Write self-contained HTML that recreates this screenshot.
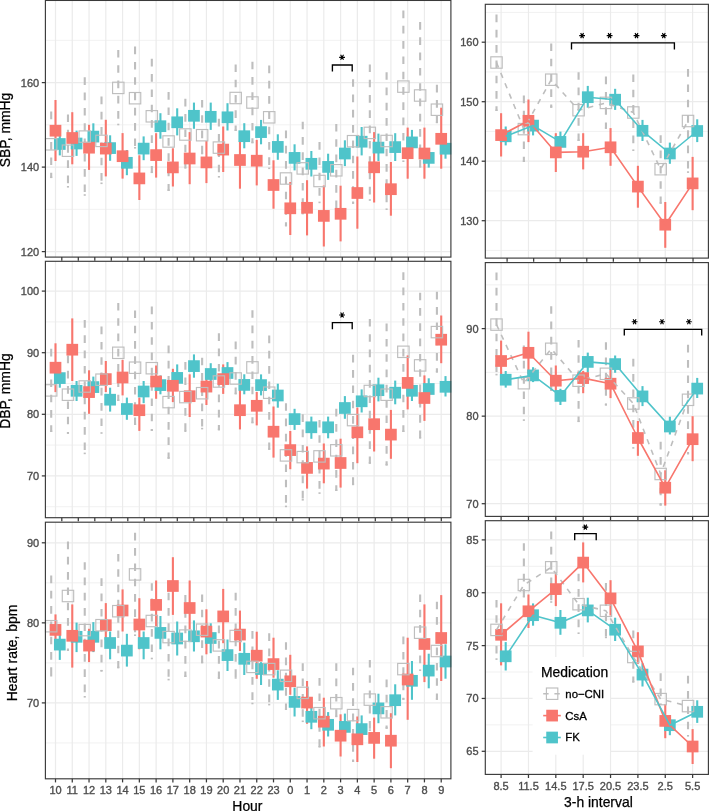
<!DOCTYPE html>
<html><head><meta charset="utf-8"><title>Blood pressure and heart rate by medication</title>
<style>html,body{margin:0;padding:0;background:#fff;overflow:hidden;width:709px;height:811px}svg{display:block;will-change:transform}</style>
</head><body>
<svg width="709" height="811" viewBox="0 0 709 811">
<style>text{font-family:"Liberation Sans",sans-serif}.tk{font-size:11px;fill:#4D4D4D;stroke:#4D4D4D;stroke-width:0.35px}.ti{font-size:13.9px;fill:#000;stroke:#000;stroke-width:0.25px}.lg{font-size:11.4px;fill:#000;stroke:#000;stroke-width:0.3px}.star{font-size:17px;fill:#000}</style>
<rect width="709" height="811" fill="#fff"/>
<line x1="45.4" y1="209.35" x2="450.9" y2="209.35" stroke="#EBEBEB" stroke-width="0.7"/>
<line x1="45.4" y1="124.85" x2="450.9" y2="124.85" stroke="#EBEBEB" stroke-width="0.7"/>
<line x1="45.4" y1="40.35" x2="450.9" y2="40.35" stroke="#EBEBEB" stroke-width="0.7"/>
<line x1="45.4" y1="251.6" x2="450.9" y2="251.6" stroke="#EBEBEB" stroke-width="1.2"/>
<line x1="45.4" y1="167.1" x2="450.9" y2="167.1" stroke="#EBEBEB" stroke-width="1.2"/>
<line x1="45.4" y1="82.6" x2="450.9" y2="82.6" stroke="#EBEBEB" stroke-width="1.2"/>
<line x1="55.5" y1="0.45" x2="55.5" y2="257.1" stroke="#EBEBEB" stroke-width="1.2"/>
<line x1="72.27" y1="0.45" x2="72.27" y2="257.1" stroke="#EBEBEB" stroke-width="1.2"/>
<line x1="89.04" y1="0.45" x2="89.04" y2="257.1" stroke="#EBEBEB" stroke-width="1.2"/>
<line x1="105.81" y1="0.45" x2="105.81" y2="257.1" stroke="#EBEBEB" stroke-width="1.2"/>
<line x1="122.58" y1="0.45" x2="122.58" y2="257.1" stroke="#EBEBEB" stroke-width="1.2"/>
<line x1="139.35" y1="0.45" x2="139.35" y2="257.1" stroke="#EBEBEB" stroke-width="1.2"/>
<line x1="156.12" y1="0.45" x2="156.12" y2="257.1" stroke="#EBEBEB" stroke-width="1.2"/>
<line x1="172.89" y1="0.45" x2="172.89" y2="257.1" stroke="#EBEBEB" stroke-width="1.2"/>
<line x1="189.66" y1="0.45" x2="189.66" y2="257.1" stroke="#EBEBEB" stroke-width="1.2"/>
<line x1="206.43" y1="0.45" x2="206.43" y2="257.1" stroke="#EBEBEB" stroke-width="1.2"/>
<line x1="223.2" y1="0.45" x2="223.2" y2="257.1" stroke="#EBEBEB" stroke-width="1.2"/>
<line x1="239.97" y1="0.45" x2="239.97" y2="257.1" stroke="#EBEBEB" stroke-width="1.2"/>
<line x1="256.74" y1="0.45" x2="256.74" y2="257.1" stroke="#EBEBEB" stroke-width="1.2"/>
<line x1="273.51" y1="0.45" x2="273.51" y2="257.1" stroke="#EBEBEB" stroke-width="1.2"/>
<line x1="290.28" y1="0.45" x2="290.28" y2="257.1" stroke="#EBEBEB" stroke-width="1.2"/>
<line x1="307.05" y1="0.45" x2="307.05" y2="257.1" stroke="#EBEBEB" stroke-width="1.2"/>
<line x1="323.82" y1="0.45" x2="323.82" y2="257.1" stroke="#EBEBEB" stroke-width="1.2"/>
<line x1="340.59" y1="0.45" x2="340.59" y2="257.1" stroke="#EBEBEB" stroke-width="1.2"/>
<line x1="357.36" y1="0.45" x2="357.36" y2="257.1" stroke="#EBEBEB" stroke-width="1.2"/>
<line x1="374.13" y1="0.45" x2="374.13" y2="257.1" stroke="#EBEBEB" stroke-width="1.2"/>
<line x1="390.9" y1="0.45" x2="390.9" y2="257.1" stroke="#EBEBEB" stroke-width="1.2"/>
<line x1="407.67" y1="0.45" x2="407.67" y2="257.1" stroke="#EBEBEB" stroke-width="1.2"/>
<line x1="424.44" y1="0.45" x2="424.44" y2="257.1" stroke="#EBEBEB" stroke-width="1.2"/>
<line x1="441.21" y1="0.45" x2="441.21" y2="257.1" stroke="#EBEBEB" stroke-width="1.2"/>
<line x1="59.8" y1="135.5" x2="59.8" y2="155.4" stroke="#4FC4CA" stroke-width="2.1"/>
<line x1="76.57" y1="130.6" x2="76.57" y2="155.9" stroke="#4FC4CA" stroke-width="2.1"/>
<line x1="93.34" y1="123.3" x2="93.34" y2="148" stroke="#4FC4CA" stroke-width="2.1"/>
<line x1="110.11" y1="135.3" x2="110.11" y2="160.8" stroke="#4FC4CA" stroke-width="2.1"/>
<line x1="126.88" y1="150" x2="126.88" y2="175.2" stroke="#4FC4CA" stroke-width="2.1"/>
<line x1="143.65" y1="136.4" x2="143.65" y2="160.2" stroke="#4FC4CA" stroke-width="2.1"/>
<line x1="160.42" y1="113.2" x2="160.42" y2="138.7" stroke="#4FC4CA" stroke-width="2.1"/>
<line x1="177.19" y1="108.3" x2="177.19" y2="135.4" stroke="#4FC4CA" stroke-width="2.1"/>
<line x1="193.96" y1="102.6" x2="193.96" y2="128.8" stroke="#4FC4CA" stroke-width="2.1"/>
<line x1="210.73" y1="102.6" x2="210.73" y2="129.9" stroke="#4FC4CA" stroke-width="2.1"/>
<line x1="227.5" y1="103.2" x2="227.5" y2="130.5" stroke="#4FC4CA" stroke-width="2.1"/>
<line x1="244.27" y1="123.2" x2="244.27" y2="148.3" stroke="#4FC4CA" stroke-width="2.1"/>
<line x1="261.04" y1="119.9" x2="261.04" y2="144.3" stroke="#4FC4CA" stroke-width="2.1"/>
<line x1="277.81" y1="134.3" x2="277.81" y2="159.8" stroke="#4FC4CA" stroke-width="2.1"/>
<line x1="294.58" y1="144.3" x2="294.58" y2="170.4" stroke="#4FC4CA" stroke-width="2.1"/>
<line x1="311.35" y1="151" x2="311.35" y2="176.5" stroke="#4FC4CA" stroke-width="2.1"/>
<line x1="328.12" y1="153.7" x2="328.12" y2="179.9" stroke="#4FC4CA" stroke-width="2.1"/>
<line x1="344.89" y1="140.3" x2="344.89" y2="166.1" stroke="#4FC4CA" stroke-width="2.1"/>
<line x1="361.66" y1="127" x2="361.66" y2="155.4" stroke="#4FC4CA" stroke-width="2.1"/>
<line x1="378.43" y1="133.6" x2="378.43" y2="161" stroke="#4FC4CA" stroke-width="2.1"/>
<line x1="395.2" y1="133.2" x2="395.2" y2="161" stroke="#4FC4CA" stroke-width="2.1"/>
<line x1="411.97" y1="129.9" x2="411.97" y2="153.2" stroke="#4FC4CA" stroke-width="2.1"/>
<line x1="428.74" y1="148" x2="428.74" y2="167.6" stroke="#4FC4CA" stroke-width="2.1"/>
<line x1="445.51" y1="137.6" x2="445.51" y2="158.7" stroke="#4FC4CA" stroke-width="2.1"/>
<line x1="55.5" y1="100" x2="55.5" y2="161" stroke="#F8766D" stroke-width="2.1"/>
<line x1="72.27" y1="112.2" x2="72.27" y2="164.3" stroke="#F8766D" stroke-width="2.1"/>
<line x1="89.04" y1="124.8" x2="89.04" y2="169.9" stroke="#F8766D" stroke-width="2.1"/>
<line x1="105.81" y1="119.8" x2="105.81" y2="176.4" stroke="#F8766D" stroke-width="2.1"/>
<line x1="122.58" y1="133.1" x2="122.58" y2="178.6" stroke="#F8766D" stroke-width="2.1"/>
<line x1="139.35" y1="155.3" x2="139.35" y2="200" stroke="#F8766D" stroke-width="2.1"/>
<line x1="156.12" y1="133.2" x2="156.12" y2="177.6" stroke="#F8766D" stroke-width="2.1"/>
<line x1="172.89" y1="148.3" x2="172.89" y2="186.5" stroke="#F8766D" stroke-width="2.1"/>
<line x1="189.66" y1="132.1" x2="189.66" y2="184.2" stroke="#F8766D" stroke-width="2.1"/>
<line x1="206.43" y1="141" x2="206.43" y2="183.1" stroke="#F8766D" stroke-width="2.1"/>
<line x1="223.2" y1="126.5" x2="223.2" y2="172" stroke="#F8766D" stroke-width="2.1"/>
<line x1="239.97" y1="141" x2="239.97" y2="188.7" stroke="#F8766D" stroke-width="2.1"/>
<line x1="256.74" y1="139.9" x2="256.74" y2="185.4" stroke="#F8766D" stroke-width="2.1"/>
<line x1="273.51" y1="160.3" x2="273.51" y2="208.7" stroke="#F8766D" stroke-width="2.1"/>
<line x1="290.28" y1="182" x2="290.28" y2="235" stroke="#F8766D" stroke-width="2.1"/>
<line x1="307.05" y1="180.2" x2="307.05" y2="235.4" stroke="#F8766D" stroke-width="2.1"/>
<line x1="323.82" y1="185.5" x2="323.82" y2="246.5" stroke="#F8766D" stroke-width="2.1"/>
<line x1="340.59" y1="185.7" x2="340.59" y2="241.4" stroke="#F8766D" stroke-width="2.1"/>
<line x1="357.36" y1="156.5" x2="357.36" y2="228.7" stroke="#F8766D" stroke-width="2.1"/>
<line x1="374.13" y1="132.1" x2="374.13" y2="202.5" stroke="#F8766D" stroke-width="2.1"/>
<line x1="390.9" y1="162" x2="390.9" y2="215.7" stroke="#F8766D" stroke-width="2.1"/>
<line x1="407.67" y1="127.6" x2="407.67" y2="178.7" stroke="#F8766D" stroke-width="2.1"/>
<line x1="424.44" y1="127.6" x2="424.44" y2="178.7" stroke="#F8766D" stroke-width="2.1"/>
<line x1="441.21" y1="107.7" x2="441.21" y2="168.7" stroke="#F8766D" stroke-width="2.1"/>
<line x1="51.2" y1="111.5" x2="51.2" y2="178.1" stroke="#BEBEBE" stroke-width="2.1" stroke-dasharray="7.65 7.65"/>
<rect x="50.15" y="176.5" width="2.1" height="1.6" fill="#BEBEBE"/>
<line x1="67.97" y1="114.4" x2="67.97" y2="187.6" stroke="#BEBEBE" stroke-width="2.1" stroke-dasharray="7.65 7.65"/>
<rect x="66.92" y="186" width="2.1" height="1.6" fill="#BEBEBE"/>
<line x1="84.74" y1="77.3" x2="84.74" y2="195.8" stroke="#BEBEBE" stroke-width="2.1" stroke-dasharray="7.65 7.65"/>
<rect x="83.69" y="194.2" width="2.1" height="1.6" fill="#BEBEBE"/>
<line x1="101.51" y1="96.5" x2="101.51" y2="184.1" stroke="#BEBEBE" stroke-width="2.1" stroke-dasharray="7.65 7.65"/>
<rect x="100.46" y="182.5" width="2.1" height="1.6" fill="#BEBEBE"/>
<line x1="118.28" y1="49.9" x2="118.28" y2="125.3" stroke="#BEBEBE" stroke-width="2.1" stroke-dasharray="7.65 7.65"/>
<rect x="117.23" y="123.7" width="2.1" height="1.6" fill="#BEBEBE"/>
<line x1="135.05" y1="46.6" x2="135.05" y2="148.6" stroke="#BEBEBE" stroke-width="2.1" stroke-dasharray="7.65 7.65"/>
<rect x="134" y="147" width="2.1" height="1.6" fill="#BEBEBE"/>
<line x1="151.82" y1="58.8" x2="151.82" y2="173.1" stroke="#BEBEBE" stroke-width="2.1" stroke-dasharray="7.65 7.65"/>
<rect x="150.77" y="171.5" width="2.1" height="1.6" fill="#BEBEBE"/>
<line x1="168.59" y1="92.1" x2="168.59" y2="190.9" stroke="#BEBEBE" stroke-width="2.1" stroke-dasharray="7.65 7.65"/>
<rect x="167.54" y="189.3" width="2.1" height="1.6" fill="#BEBEBE"/>
<line x1="185.36" y1="98.8" x2="185.36" y2="168.7" stroke="#BEBEBE" stroke-width="2.1" stroke-dasharray="7.65 7.65"/>
<rect x="184.31" y="167.1" width="2.1" height="1.6" fill="#BEBEBE"/>
<line x1="202.13" y1="99.9" x2="202.13" y2="154.3" stroke="#BEBEBE" stroke-width="2.1" stroke-dasharray="7.65 7.65"/>
<rect x="201.08" y="152.7" width="2.1" height="1.6" fill="#BEBEBE"/>
<line x1="218.9" y1="118.8" x2="218.9" y2="177.6" stroke="#BEBEBE" stroke-width="2.1" stroke-dasharray="7.65 7.65"/>
<rect x="217.85" y="176" width="2.1" height="1.6" fill="#BEBEBE"/>
<line x1="235.67" y1="64.4" x2="235.67" y2="131" stroke="#BEBEBE" stroke-width="2.1" stroke-dasharray="7.65 7.65"/>
<rect x="234.62" y="129.4" width="2.1" height="1.6" fill="#BEBEBE"/>
<line x1="252.44" y1="61.7" x2="252.44" y2="143.2" stroke="#BEBEBE" stroke-width="2.1" stroke-dasharray="7.65 7.65"/>
<rect x="251.39" y="141.6" width="2.1" height="1.6" fill="#BEBEBE"/>
<line x1="269.21" y1="65.5" x2="269.21" y2="169.1" stroke="#BEBEBE" stroke-width="2.1" stroke-dasharray="7.65 7.65"/>
<rect x="268.16" y="167.5" width="2.1" height="1.6" fill="#BEBEBE"/>
<line x1="285.98" y1="130.5" x2="285.98" y2="226.3" stroke="#BEBEBE" stroke-width="2.1" stroke-dasharray="7.65 7.65"/>
<rect x="284.93" y="224.7" width="2.1" height="1.6" fill="#BEBEBE"/>
<line x1="302.75" y1="121.7" x2="302.75" y2="214.2" stroke="#BEBEBE" stroke-width="2.1" stroke-dasharray="7.65 7.65"/>
<rect x="301.7" y="212.6" width="2.1" height="1.6" fill="#BEBEBE"/>
<line x1="319.52" y1="142.1" x2="319.52" y2="203.2" stroke="#BEBEBE" stroke-width="2.1" stroke-dasharray="7.65 7.65"/>
<rect x="318.47" y="201.6" width="2.1" height="1.6" fill="#BEBEBE"/>
<line x1="336.29" y1="123.9" x2="336.29" y2="213.1" stroke="#BEBEBE" stroke-width="2.1" stroke-dasharray="7.65 7.65"/>
<rect x="335.24" y="211.5" width="2.1" height="1.6" fill="#BEBEBE"/>
<line x1="353.06" y1="79.2" x2="353.06" y2="203.8" stroke="#BEBEBE" stroke-width="2.1" stroke-dasharray="7.65 7.65"/>
<rect x="352.01" y="202.2" width="2.1" height="1.6" fill="#BEBEBE"/>
<line x1="369.83" y1="64.4" x2="369.83" y2="200.8" stroke="#BEBEBE" stroke-width="2.1" stroke-dasharray="7.65 7.65"/>
<rect x="368.78" y="199.2" width="2.1" height="1.6" fill="#BEBEBE"/>
<line x1="386.6" y1="72.2" x2="386.6" y2="210" stroke="#BEBEBE" stroke-width="2.1" stroke-dasharray="7.65 7.65"/>
<rect x="385.55" y="208.4" width="2.1" height="1.6" fill="#BEBEBE"/>
<line x1="403.37" y1="10.5" x2="403.37" y2="162" stroke="#BEBEBE" stroke-width="2.1" stroke-dasharray="7.65 7.65"/>
<rect x="402.32" y="160.4" width="2.1" height="1.6" fill="#BEBEBE"/>
<line x1="420.14" y1="22" x2="420.14" y2="167.6" stroke="#BEBEBE" stroke-width="2.1" stroke-dasharray="7.65 7.65"/>
<rect x="419.09" y="166" width="2.1" height="1.6" fill="#BEBEBE"/>
<line x1="436.91" y1="84.8" x2="436.91" y2="123.2" stroke="#BEBEBE" stroke-width="2.1" stroke-dasharray="7.65 7.65"/>
<rect x="435.86" y="121.6" width="2.1" height="1.6" fill="#BEBEBE"/>
<rect x="53.95" y="138.15" width="11.7" height="11.7" fill="#4FC4CA"/>
<rect x="70.72" y="137.65" width="11.7" height="11.7" fill="#4FC4CA"/>
<rect x="87.49" y="130.75" width="11.7" height="11.7" fill="#4FC4CA"/>
<rect x="104.26" y="142.25" width="11.7" height="11.7" fill="#4FC4CA"/>
<rect x="121.03" y="156.95" width="11.7" height="11.7" fill="#4FC4CA"/>
<rect x="137.8" y="142.75" width="11.7" height="11.7" fill="#4FC4CA"/>
<rect x="154.57" y="120.35" width="11.7" height="11.7" fill="#4FC4CA"/>
<rect x="171.34" y="116.45" width="11.7" height="11.7" fill="#4FC4CA"/>
<rect x="188.11" y="109.95" width="11.7" height="11.7" fill="#4FC4CA"/>
<rect x="204.88" y="110.95" width="11.7" height="11.7" fill="#4FC4CA"/>
<rect x="221.65" y="111.45" width="11.7" height="11.7" fill="#4FC4CA"/>
<rect x="238.42" y="130.35" width="11.7" height="11.7" fill="#4FC4CA"/>
<rect x="255.19" y="126.25" width="11.7" height="11.7" fill="#4FC4CA"/>
<rect x="271.96" y="141.05" width="11.7" height="11.7" fill="#4FC4CA"/>
<rect x="288.73" y="152.05" width="11.7" height="11.7" fill="#4FC4CA"/>
<rect x="305.5" y="157.95" width="11.7" height="11.7" fill="#4FC4CA"/>
<rect x="322.27" y="161.05" width="11.7" height="11.7" fill="#4FC4CA"/>
<rect x="339.04" y="147.65" width="11.7" height="11.7" fill="#4FC4CA"/>
<rect x="355.81" y="135.85" width="11.7" height="11.7" fill="#4FC4CA"/>
<rect x="372.58" y="141.75" width="11.7" height="11.7" fill="#4FC4CA"/>
<rect x="389.35" y="141.25" width="11.7" height="11.7" fill="#4FC4CA"/>
<rect x="406.12" y="136.55" width="11.7" height="11.7" fill="#4FC4CA"/>
<rect x="422.89" y="152.05" width="11.7" height="11.7" fill="#4FC4CA"/>
<rect x="439.66" y="142.85" width="11.7" height="11.7" fill="#4FC4CA"/>
<rect x="49.65" y="124.85" width="11.7" height="11.7" fill="#F8766D"/>
<rect x="66.42" y="132.15" width="11.7" height="11.7" fill="#F8766D"/>
<rect x="83.19" y="141.85" width="11.7" height="11.7" fill="#F8766D"/>
<rect x="99.96" y="142.75" width="11.7" height="11.7" fill="#F8766D"/>
<rect x="116.73" y="150.35" width="11.7" height="11.7" fill="#F8766D"/>
<rect x="133.5" y="172.55" width="11.7" height="11.7" fill="#F8766D"/>
<rect x="150.27" y="149.25" width="11.7" height="11.7" fill="#F8766D"/>
<rect x="167.04" y="161.55" width="11.7" height="11.7" fill="#F8766D"/>
<rect x="183.81" y="152.65" width="11.7" height="11.7" fill="#F8766D"/>
<rect x="200.58" y="156.55" width="11.7" height="11.7" fill="#F8766D"/>
<rect x="217.35" y="143.75" width="11.7" height="11.7" fill="#F8766D"/>
<rect x="234.12" y="154.15" width="11.7" height="11.7" fill="#F8766D"/>
<rect x="250.89" y="154.85" width="11.7" height="11.7" fill="#F8766D"/>
<rect x="267.66" y="179.15" width="11.7" height="11.7" fill="#F8766D"/>
<rect x="284.43" y="202.45" width="11.7" height="11.7" fill="#F8766D"/>
<rect x="301.2" y="201.95" width="11.7" height="11.7" fill="#F8766D"/>
<rect x="317.97" y="210.05" width="11.7" height="11.7" fill="#F8766D"/>
<rect x="334.74" y="207.95" width="11.7" height="11.7" fill="#F8766D"/>
<rect x="351.51" y="187.15" width="11.7" height="11.7" fill="#F8766D"/>
<rect x="368.28" y="161.45" width="11.7" height="11.7" fill="#F8766D"/>
<rect x="385.05" y="183.35" width="11.7" height="11.7" fill="#F8766D"/>
<rect x="401.82" y="147.35" width="11.7" height="11.7" fill="#F8766D"/>
<rect x="418.59" y="147.65" width="11.7" height="11.7" fill="#F8766D"/>
<rect x="435.36" y="132.95" width="11.7" height="11.7" fill="#F8766D"/>
<rect x="45.5" y="138.6" width="11.4" height="11.4" fill="none" stroke="#BEBEBE" stroke-width="1.15"/>
<rect x="62.27" y="145" width="11.4" height="11.4" fill="none" stroke="#BEBEBE" stroke-width="1.15"/>
<rect x="79.04" y="130.9" width="11.4" height="11.4" fill="none" stroke="#BEBEBE" stroke-width="1.15"/>
<rect x="95.81" y="135.2" width="11.4" height="11.4" fill="none" stroke="#BEBEBE" stroke-width="1.15"/>
<rect x="112.58" y="82.2" width="11.4" height="11.4" fill="none" stroke="#BEBEBE" stroke-width="1.15"/>
<rect x="129.35" y="92.5" width="11.4" height="11.4" fill="none" stroke="#BEBEBE" stroke-width="1.15"/>
<rect x="146.12" y="110.6" width="11.4" height="11.4" fill="none" stroke="#BEBEBE" stroke-width="1.15"/>
<rect x="162.89" y="135.8" width="11.4" height="11.4" fill="none" stroke="#BEBEBE" stroke-width="1.15"/>
<rect x="179.66" y="128.8" width="11.4" height="11.4" fill="none" stroke="#BEBEBE" stroke-width="1.15"/>
<rect x="196.43" y="129.5" width="11.4" height="11.4" fill="none" stroke="#BEBEBE" stroke-width="1.15"/>
<rect x="213.2" y="141.9" width="11.4" height="11.4" fill="none" stroke="#BEBEBE" stroke-width="1.15"/>
<rect x="229.97" y="92.3" width="11.4" height="11.4" fill="none" stroke="#BEBEBE" stroke-width="1.15"/>
<rect x="246.74" y="96.8" width="11.4" height="11.4" fill="none" stroke="#BEBEBE" stroke-width="1.15"/>
<rect x="263.51" y="111.6" width="11.4" height="11.4" fill="none" stroke="#BEBEBE" stroke-width="1.15"/>
<rect x="280.28" y="172.8" width="11.4" height="11.4" fill="none" stroke="#BEBEBE" stroke-width="1.15"/>
<rect x="297.05" y="162.7" width="11.4" height="11.4" fill="none" stroke="#BEBEBE" stroke-width="1.15"/>
<rect x="313.82" y="175.3" width="11.4" height="11.4" fill="none" stroke="#BEBEBE" stroke-width="1.15"/>
<rect x="330.59" y="164.6" width="11.4" height="11.4" fill="none" stroke="#BEBEBE" stroke-width="1.15"/>
<rect x="347.36" y="135.5" width="11.4" height="11.4" fill="none" stroke="#BEBEBE" stroke-width="1.15"/>
<rect x="364.13" y="127.2" width="11.4" height="11.4" fill="none" stroke="#BEBEBE" stroke-width="1.15"/>
<rect x="380.9" y="135.3" width="11.4" height="11.4" fill="none" stroke="#BEBEBE" stroke-width="1.15"/>
<rect x="397.67" y="80.9" width="11.4" height="11.4" fill="none" stroke="#BEBEBE" stroke-width="1.15"/>
<rect x="414.44" y="89.8" width="11.4" height="11.4" fill="none" stroke="#BEBEBE" stroke-width="1.15"/>
<rect x="431.21" y="104" width="11.4" height="11.4" fill="none" stroke="#BEBEBE" stroke-width="1.15"/>
<line x1="45.4" y1="506.7" x2="450.9" y2="506.7" stroke="#EBEBEB" stroke-width="0.7"/>
<line x1="45.4" y1="445.1" x2="450.9" y2="445.1" stroke="#EBEBEB" stroke-width="0.7"/>
<line x1="45.4" y1="383.5" x2="450.9" y2="383.5" stroke="#EBEBEB" stroke-width="0.7"/>
<line x1="45.4" y1="321.9" x2="450.9" y2="321.9" stroke="#EBEBEB" stroke-width="0.7"/>
<line x1="45.4" y1="475.9" x2="450.9" y2="475.9" stroke="#EBEBEB" stroke-width="1.2"/>
<line x1="45.4" y1="414.3" x2="450.9" y2="414.3" stroke="#EBEBEB" stroke-width="1.2"/>
<line x1="45.4" y1="352.7" x2="450.9" y2="352.7" stroke="#EBEBEB" stroke-width="1.2"/>
<line x1="45.4" y1="291.1" x2="450.9" y2="291.1" stroke="#EBEBEB" stroke-width="1.2"/>
<line x1="55.5" y1="261.3" x2="55.5" y2="517.7" stroke="#EBEBEB" stroke-width="1.2"/>
<line x1="72.27" y1="261.3" x2="72.27" y2="517.7" stroke="#EBEBEB" stroke-width="1.2"/>
<line x1="89.04" y1="261.3" x2="89.04" y2="517.7" stroke="#EBEBEB" stroke-width="1.2"/>
<line x1="105.81" y1="261.3" x2="105.81" y2="517.7" stroke="#EBEBEB" stroke-width="1.2"/>
<line x1="122.58" y1="261.3" x2="122.58" y2="517.7" stroke="#EBEBEB" stroke-width="1.2"/>
<line x1="139.35" y1="261.3" x2="139.35" y2="517.7" stroke="#EBEBEB" stroke-width="1.2"/>
<line x1="156.12" y1="261.3" x2="156.12" y2="517.7" stroke="#EBEBEB" stroke-width="1.2"/>
<line x1="172.89" y1="261.3" x2="172.89" y2="517.7" stroke="#EBEBEB" stroke-width="1.2"/>
<line x1="189.66" y1="261.3" x2="189.66" y2="517.7" stroke="#EBEBEB" stroke-width="1.2"/>
<line x1="206.43" y1="261.3" x2="206.43" y2="517.7" stroke="#EBEBEB" stroke-width="1.2"/>
<line x1="223.2" y1="261.3" x2="223.2" y2="517.7" stroke="#EBEBEB" stroke-width="1.2"/>
<line x1="239.97" y1="261.3" x2="239.97" y2="517.7" stroke="#EBEBEB" stroke-width="1.2"/>
<line x1="256.74" y1="261.3" x2="256.74" y2="517.7" stroke="#EBEBEB" stroke-width="1.2"/>
<line x1="273.51" y1="261.3" x2="273.51" y2="517.7" stroke="#EBEBEB" stroke-width="1.2"/>
<line x1="290.28" y1="261.3" x2="290.28" y2="517.7" stroke="#EBEBEB" stroke-width="1.2"/>
<line x1="307.05" y1="261.3" x2="307.05" y2="517.7" stroke="#EBEBEB" stroke-width="1.2"/>
<line x1="323.82" y1="261.3" x2="323.82" y2="517.7" stroke="#EBEBEB" stroke-width="1.2"/>
<line x1="340.59" y1="261.3" x2="340.59" y2="517.7" stroke="#EBEBEB" stroke-width="1.2"/>
<line x1="357.36" y1="261.3" x2="357.36" y2="517.7" stroke="#EBEBEB" stroke-width="1.2"/>
<line x1="374.13" y1="261.3" x2="374.13" y2="517.7" stroke="#EBEBEB" stroke-width="1.2"/>
<line x1="390.9" y1="261.3" x2="390.9" y2="517.7" stroke="#EBEBEB" stroke-width="1.2"/>
<line x1="407.67" y1="261.3" x2="407.67" y2="517.7" stroke="#EBEBEB" stroke-width="1.2"/>
<line x1="424.44" y1="261.3" x2="424.44" y2="517.7" stroke="#EBEBEB" stroke-width="1.2"/>
<line x1="441.21" y1="261.3" x2="441.21" y2="517.7" stroke="#EBEBEB" stroke-width="1.2"/>
<line x1="59.8" y1="372" x2="59.8" y2="387.7" stroke="#4FC4CA" stroke-width="2.1"/>
<line x1="76.57" y1="381" x2="76.57" y2="401" stroke="#4FC4CA" stroke-width="2.1"/>
<line x1="93.34" y1="376.6" x2="93.34" y2="397" stroke="#4FC4CA" stroke-width="2.1"/>
<line x1="110.11" y1="387.7" x2="110.11" y2="411.6" stroke="#4FC4CA" stroke-width="2.1"/>
<line x1="126.88" y1="397.6" x2="126.88" y2="419.8" stroke="#4FC4CA" stroke-width="2.1"/>
<line x1="143.65" y1="381" x2="143.65" y2="403.2" stroke="#4FC4CA" stroke-width="2.1"/>
<line x1="160.42" y1="375.4" x2="160.42" y2="394.3" stroke="#4FC4CA" stroke-width="2.1"/>
<line x1="177.19" y1="364.4" x2="177.19" y2="383.2" stroke="#4FC4CA" stroke-width="2.1"/>
<line x1="193.96" y1="354.4" x2="193.96" y2="377.7" stroke="#4FC4CA" stroke-width="2.1"/>
<line x1="210.73" y1="363.2" x2="210.73" y2="387.7" stroke="#4FC4CA" stroke-width="2.1"/>
<line x1="227.5" y1="362.1" x2="227.5" y2="384.3" stroke="#4FC4CA" stroke-width="2.1"/>
<line x1="244.27" y1="374.3" x2="244.27" y2="394.3" stroke="#4FC4CA" stroke-width="2.1"/>
<line x1="261.04" y1="374.4" x2="261.04" y2="395.4" stroke="#4FC4CA" stroke-width="2.1"/>
<line x1="277.81" y1="383.7" x2="277.81" y2="407.7" stroke="#4FC4CA" stroke-width="2.1"/>
<line x1="294.58" y1="408.8" x2="294.58" y2="429.9" stroke="#4FC4CA" stroke-width="2.1"/>
<line x1="311.35" y1="416.6" x2="311.35" y2="438.8" stroke="#4FC4CA" stroke-width="2.1"/>
<line x1="328.12" y1="416.6" x2="328.12" y2="438.3" stroke="#4FC4CA" stroke-width="2.1"/>
<line x1="344.89" y1="396.1" x2="344.89" y2="418.8" stroke="#4FC4CA" stroke-width="2.1"/>
<line x1="361.66" y1="389.4" x2="361.66" y2="412.5" stroke="#4FC4CA" stroke-width="2.1"/>
<line x1="378.43" y1="377.7" x2="378.43" y2="401.4" stroke="#4FC4CA" stroke-width="2.1"/>
<line x1="395.2" y1="380.6" x2="395.2" y2="404.3" stroke="#4FC4CA" stroke-width="2.1"/>
<line x1="411.97" y1="385" x2="411.97" y2="401" stroke="#4FC4CA" stroke-width="2.1"/>
<line x1="428.74" y1="378.3" x2="428.74" y2="398.7" stroke="#4FC4CA" stroke-width="2.1"/>
<line x1="445.51" y1="376.1" x2="445.51" y2="396.5" stroke="#4FC4CA" stroke-width="2.1"/>
<line x1="55.5" y1="343.3" x2="55.5" y2="392.1" stroke="#F8766D" stroke-width="2.1"/>
<line x1="72.27" y1="318.4" x2="72.27" y2="381" stroke="#F8766D" stroke-width="2.1"/>
<line x1="89.04" y1="370.3" x2="89.04" y2="413.8" stroke="#F8766D" stroke-width="2.1"/>
<line x1="105.81" y1="361" x2="105.81" y2="392.1" stroke="#F8766D" stroke-width="2.1"/>
<line x1="122.58" y1="359.9" x2="122.58" y2="395.4" stroke="#F8766D" stroke-width="2.1"/>
<line x1="139.35" y1="397.6" x2="139.35" y2="430.9" stroke="#F8766D" stroke-width="2.1"/>
<line x1="156.12" y1="365.5" x2="156.12" y2="398.8" stroke="#F8766D" stroke-width="2.1"/>
<line x1="172.89" y1="368.8" x2="172.89" y2="402.1" stroke="#F8766D" stroke-width="2.1"/>
<line x1="189.66" y1="374.3" x2="189.66" y2="417" stroke="#F8766D" stroke-width="2.1"/>
<line x1="206.43" y1="378" x2="206.43" y2="405" stroke="#F8766D" stroke-width="2.1"/>
<line x1="223.2" y1="364.4" x2="223.2" y2="393.9" stroke="#F8766D" stroke-width="2.1"/>
<line x1="239.97" y1="390" x2="239.97" y2="429.4" stroke="#F8766D" stroke-width="2.1"/>
<line x1="256.74" y1="392" x2="256.74" y2="425.4" stroke="#F8766D" stroke-width="2.1"/>
<line x1="273.51" y1="406.5" x2="273.51" y2="457.6" stroke="#F8766D" stroke-width="2.1"/>
<line x1="290.28" y1="431" x2="290.28" y2="469.2" stroke="#F8766D" stroke-width="2.1"/>
<line x1="307.05" y1="446.4" x2="307.05" y2="488.6" stroke="#F8766D" stroke-width="2.1"/>
<line x1="323.82" y1="443.5" x2="323.82" y2="483.3" stroke="#F8766D" stroke-width="2.1"/>
<line x1="340.59" y1="438.7" x2="340.59" y2="487.6" stroke="#F8766D" stroke-width="2.1"/>
<line x1="357.36" y1="407.6" x2="357.36" y2="463.2" stroke="#F8766D" stroke-width="2.1"/>
<line x1="374.13" y1="396.5" x2="374.13" y2="451.5" stroke="#F8766D" stroke-width="2.1"/>
<line x1="390.9" y1="409.9" x2="390.9" y2="458.8" stroke="#F8766D" stroke-width="2.1"/>
<line x1="407.67" y1="355.4" x2="407.67" y2="409.4" stroke="#F8766D" stroke-width="2.1"/>
<line x1="424.44" y1="375.4" x2="424.44" y2="420.9" stroke="#F8766D" stroke-width="2.1"/>
<line x1="441.21" y1="315.5" x2="441.21" y2="363.2" stroke="#F8766D" stroke-width="2.1"/>
<line x1="51.2" y1="348.8" x2="51.2" y2="432" stroke="#BEBEBE" stroke-width="2.1" stroke-dasharray="7.65 7.65"/>
<rect x="50.15" y="430.4" width="2.1" height="1.6" fill="#BEBEBE"/>
<line x1="67.97" y1="355.5" x2="67.97" y2="433.8" stroke="#BEBEBE" stroke-width="2.1" stroke-dasharray="7.65 7.65"/>
<rect x="66.92" y="432.2" width="2.1" height="1.6" fill="#BEBEBE"/>
<line x1="84.74" y1="320" x2="84.74" y2="454.2" stroke="#BEBEBE" stroke-width="2.1" stroke-dasharray="7.65 7.65"/>
<rect x="83.69" y="452.6" width="2.1" height="1.6" fill="#BEBEBE"/>
<line x1="101.51" y1="326.6" x2="101.51" y2="433.8" stroke="#BEBEBE" stroke-width="2.1" stroke-dasharray="7.65 7.65"/>
<rect x="100.46" y="432.2" width="2.1" height="1.6" fill="#BEBEBE"/>
<line x1="118.28" y1="302.9" x2="118.28" y2="401" stroke="#BEBEBE" stroke-width="2.1" stroke-dasharray="7.65 7.65"/>
<rect x="117.23" y="399.4" width="2.1" height="1.6" fill="#BEBEBE"/>
<line x1="135.05" y1="310.4" x2="135.05" y2="424.9" stroke="#BEBEBE" stroke-width="2.1" stroke-dasharray="7.65 7.65"/>
<rect x="134" y="423.3" width="2.1" height="1.6" fill="#BEBEBE"/>
<line x1="151.82" y1="306.6" x2="151.82" y2="430.9" stroke="#BEBEBE" stroke-width="2.1" stroke-dasharray="7.65 7.65"/>
<rect x="150.77" y="429.3" width="2.1" height="1.6" fill="#BEBEBE"/>
<line x1="168.59" y1="345.5" x2="168.59" y2="458.7" stroke="#BEBEBE" stroke-width="2.1" stroke-dasharray="7.65 7.65"/>
<rect x="167.54" y="457.1" width="2.1" height="1.6" fill="#BEBEBE"/>
<line x1="185.36" y1="362.1" x2="185.36" y2="432" stroke="#BEBEBE" stroke-width="2.1" stroke-dasharray="7.65 7.65"/>
<rect x="184.31" y="430.4" width="2.1" height="1.6" fill="#BEBEBE"/>
<line x1="202.13" y1="357.7" x2="202.13" y2="429.4" stroke="#BEBEBE" stroke-width="2.1" stroke-dasharray="7.65 7.65"/>
<rect x="201.08" y="427.8" width="2.1" height="1.6" fill="#BEBEBE"/>
<line x1="218.9" y1="333.3" x2="218.9" y2="430.3" stroke="#BEBEBE" stroke-width="2.1" stroke-dasharray="7.65 7.65"/>
<rect x="217.85" y="428.7" width="2.1" height="1.6" fill="#BEBEBE"/>
<line x1="235.67" y1="341.5" x2="235.67" y2="394.3" stroke="#BEBEBE" stroke-width="2.1" stroke-dasharray="7.65 7.65"/>
<rect x="234.62" y="392.7" width="2.1" height="1.6" fill="#BEBEBE"/>
<line x1="252.44" y1="310.2" x2="252.44" y2="423.2" stroke="#BEBEBE" stroke-width="2.1" stroke-dasharray="7.65 7.65"/>
<rect x="251.39" y="421.6" width="2.1" height="1.6" fill="#BEBEBE"/>
<line x1="269.21" y1="335.5" x2="269.21" y2="449.8" stroke="#BEBEBE" stroke-width="2.1" stroke-dasharray="7.65 7.65"/>
<rect x="268.16" y="448.2" width="2.1" height="1.6" fill="#BEBEBE"/>
<line x1="285.98" y1="403.2" x2="285.98" y2="507.2" stroke="#BEBEBE" stroke-width="2.1" stroke-dasharray="7.65 7.65"/>
<rect x="284.93" y="505.6" width="2.1" height="1.6" fill="#BEBEBE"/>
<line x1="302.75" y1="414.3" x2="302.75" y2="500.6" stroke="#BEBEBE" stroke-width="2.1" stroke-dasharray="7.65 7.65"/>
<rect x="301.7" y="499" width="2.1" height="1.6" fill="#BEBEBE"/>
<line x1="319.52" y1="419.9" x2="319.52" y2="493.9" stroke="#BEBEBE" stroke-width="2.1" stroke-dasharray="7.65 7.65"/>
<rect x="318.47" y="492.3" width="2.1" height="1.6" fill="#BEBEBE"/>
<line x1="336.29" y1="408.8" x2="336.29" y2="491" stroke="#BEBEBE" stroke-width="2.1" stroke-dasharray="7.65 7.65"/>
<rect x="335.24" y="489.4" width="2.1" height="1.6" fill="#BEBEBE"/>
<line x1="353.06" y1="354.8" x2="353.06" y2="485.2" stroke="#BEBEBE" stroke-width="2.1" stroke-dasharray="7.65 7.65"/>
<rect x="352.01" y="483.6" width="2.1" height="1.6" fill="#BEBEBE"/>
<line x1="369.83" y1="318.9" x2="369.83" y2="463.7" stroke="#BEBEBE" stroke-width="2.1" stroke-dasharray="7.65 7.65"/>
<rect x="368.78" y="462.1" width="2.1" height="1.6" fill="#BEBEBE"/>
<line x1="386.6" y1="323.6" x2="386.6" y2="465.4" stroke="#BEBEBE" stroke-width="2.1" stroke-dasharray="7.65 7.65"/>
<rect x="385.55" y="463.8" width="2.1" height="1.6" fill="#BEBEBE"/>
<line x1="403.37" y1="272.3" x2="403.37" y2="432" stroke="#BEBEBE" stroke-width="2.1" stroke-dasharray="7.65 7.65"/>
<rect x="402.32" y="430.4" width="2.1" height="1.6" fill="#BEBEBE"/>
<line x1="420.14" y1="292.7" x2="420.14" y2="438.7" stroke="#BEBEBE" stroke-width="2.1" stroke-dasharray="7.65 7.65"/>
<rect x="419.09" y="437.1" width="2.1" height="1.6" fill="#BEBEBE"/>
<line x1="436.91" y1="291.8" x2="436.91" y2="372.5" stroke="#BEBEBE" stroke-width="2.1" stroke-dasharray="7.65 7.65"/>
<rect x="435.86" y="370.9" width="2.1" height="1.6" fill="#BEBEBE"/>
<rect x="53.95" y="372.25" width="11.7" height="11.7" fill="#4FC4CA"/>
<rect x="70.72" y="384.95" width="11.7" height="11.7" fill="#4FC4CA"/>
<rect x="87.49" y="381.25" width="11.7" height="11.7" fill="#4FC4CA"/>
<rect x="104.26" y="393.85" width="11.7" height="11.7" fill="#4FC4CA"/>
<rect x="121.03" y="403.15" width="11.7" height="11.7" fill="#4FC4CA"/>
<rect x="137.8" y="385.65" width="11.7" height="11.7" fill="#4FC4CA"/>
<rect x="154.57" y="379.25" width="11.7" height="11.7" fill="#4FC4CA"/>
<rect x="171.34" y="372.05" width="11.7" height="11.7" fill="#4FC4CA"/>
<rect x="188.11" y="360.25" width="11.7" height="11.7" fill="#4FC4CA"/>
<rect x="204.88" y="368.15" width="11.7" height="11.7" fill="#4FC4CA"/>
<rect x="221.65" y="367.15" width="11.7" height="11.7" fill="#4FC4CA"/>
<rect x="238.42" y="379.05" width="11.7" height="11.7" fill="#4FC4CA"/>
<rect x="255.19" y="379.25" width="11.7" height="11.7" fill="#4FC4CA"/>
<rect x="271.96" y="389.65" width="11.7" height="11.7" fill="#4FC4CA"/>
<rect x="288.73" y="413.25" width="11.7" height="11.7" fill="#4FC4CA"/>
<rect x="305.5" y="421.45" width="11.7" height="11.7" fill="#4FC4CA"/>
<rect x="322.27" y="421.45" width="11.7" height="11.7" fill="#4FC4CA"/>
<rect x="339.04" y="402.15" width="11.7" height="11.7" fill="#4FC4CA"/>
<rect x="355.81" y="395.45" width="11.7" height="11.7" fill="#4FC4CA"/>
<rect x="372.58" y="384.35" width="11.7" height="11.7" fill="#4FC4CA"/>
<rect x="389.35" y="386.85" width="11.7" height="11.7" fill="#4FC4CA"/>
<rect x="406.12" y="384.95" width="11.7" height="11.7" fill="#4FC4CA"/>
<rect x="422.89" y="383.15" width="11.7" height="11.7" fill="#4FC4CA"/>
<rect x="439.66" y="380.95" width="11.7" height="11.7" fill="#4FC4CA"/>
<rect x="49.65" y="361.85" width="11.7" height="11.7" fill="#F8766D"/>
<rect x="66.42" y="343.85" width="11.7" height="11.7" fill="#F8766D"/>
<rect x="83.19" y="386.25" width="11.7" height="11.7" fill="#F8766D"/>
<rect x="99.96" y="373.25" width="11.7" height="11.7" fill="#F8766D"/>
<rect x="116.73" y="371.65" width="11.7" height="11.7" fill="#F8766D"/>
<rect x="133.5" y="404.35" width="11.7" height="11.7" fill="#F8766D"/>
<rect x="150.27" y="375.65" width="11.7" height="11.7" fill="#F8766D"/>
<rect x="167.04" y="379.95" width="11.7" height="11.7" fill="#F8766D"/>
<rect x="183.81" y="390.35" width="11.7" height="11.7" fill="#F8766D"/>
<rect x="200.58" y="380.75" width="11.7" height="11.7" fill="#F8766D"/>
<rect x="217.35" y="373.25" width="11.7" height="11.7" fill="#F8766D"/>
<rect x="234.12" y="404.35" width="11.7" height="11.7" fill="#F8766D"/>
<rect x="250.89" y="399.95" width="11.7" height="11.7" fill="#F8766D"/>
<rect x="267.66" y="425.85" width="11.7" height="11.7" fill="#F8766D"/>
<rect x="284.43" y="444.25" width="11.7" height="11.7" fill="#F8766D"/>
<rect x="301.2" y="462.05" width="11.7" height="11.7" fill="#F8766D"/>
<rect x="317.97" y="457.75" width="11.7" height="11.7" fill="#F8766D"/>
<rect x="334.74" y="457.15" width="11.7" height="11.7" fill="#F8766D"/>
<rect x="351.51" y="426.45" width="11.7" height="11.7" fill="#F8766D"/>
<rect x="368.28" y="418.35" width="11.7" height="11.7" fill="#F8766D"/>
<rect x="385.05" y="428.75" width="11.7" height="11.7" fill="#F8766D"/>
<rect x="401.82" y="377.05" width="11.7" height="11.7" fill="#F8766D"/>
<rect x="418.59" y="392.15" width="11.7" height="11.7" fill="#F8766D"/>
<rect x="435.36" y="333.85" width="11.7" height="11.7" fill="#F8766D"/>
<rect x="45.5" y="384.7" width="11.4" height="11.4" fill="none" stroke="#BEBEBE" stroke-width="1.15"/>
<rect x="62.27" y="389" width="11.4" height="11.4" fill="none" stroke="#BEBEBE" stroke-width="1.15"/>
<rect x="79.04" y="380.8" width="11.4" height="11.4" fill="none" stroke="#BEBEBE" stroke-width="1.15"/>
<rect x="95.81" y="374" width="11.4" height="11.4" fill="none" stroke="#BEBEBE" stroke-width="1.15"/>
<rect x="112.58" y="347.1" width="11.4" height="11.4" fill="none" stroke="#BEBEBE" stroke-width="1.15"/>
<rect x="129.35" y="362" width="11.4" height="11.4" fill="none" stroke="#BEBEBE" stroke-width="1.15"/>
<rect x="146.12" y="362.5" width="11.4" height="11.4" fill="none" stroke="#BEBEBE" stroke-width="1.15"/>
<rect x="162.89" y="396.4" width="11.4" height="11.4" fill="none" stroke="#BEBEBE" stroke-width="1.15"/>
<rect x="179.66" y="391.4" width="11.4" height="11.4" fill="none" stroke="#BEBEBE" stroke-width="1.15"/>
<rect x="196.43" y="387.5" width="11.4" height="11.4" fill="none" stroke="#BEBEBE" stroke-width="1.15"/>
<rect x="213.2" y="375.8" width="11.4" height="11.4" fill="none" stroke="#BEBEBE" stroke-width="1.15"/>
<rect x="229.97" y="372.8" width="11.4" height="11.4" fill="none" stroke="#BEBEBE" stroke-width="1.15"/>
<rect x="246.74" y="361.7" width="11.4" height="11.4" fill="none" stroke="#BEBEBE" stroke-width="1.15"/>
<rect x="263.51" y="387" width="11.4" height="11.4" fill="none" stroke="#BEBEBE" stroke-width="1.15"/>
<rect x="280.28" y="449.7" width="11.4" height="11.4" fill="none" stroke="#BEBEBE" stroke-width="1.15"/>
<rect x="297.05" y="451.4" width="11.4" height="11.4" fill="none" stroke="#BEBEBE" stroke-width="1.15"/>
<rect x="313.82" y="450.7" width="11.4" height="11.4" fill="none" stroke="#BEBEBE" stroke-width="1.15"/>
<rect x="330.59" y="444.6" width="11.4" height="11.4" fill="none" stroke="#BEBEBE" stroke-width="1.15"/>
<rect x="347.36" y="414.4" width="11.4" height="11.4" fill="none" stroke="#BEBEBE" stroke-width="1.15"/>
<rect x="364.13" y="385.3" width="11.4" height="11.4" fill="none" stroke="#BEBEBE" stroke-width="1.15"/>
<rect x="380.9" y="389" width="11.4" height="11.4" fill="none" stroke="#BEBEBE" stroke-width="1.15"/>
<rect x="397.67" y="346.1" width="11.4" height="11.4" fill="none" stroke="#BEBEBE" stroke-width="1.15"/>
<rect x="414.44" y="359.7" width="11.4" height="11.4" fill="none" stroke="#BEBEBE" stroke-width="1.15"/>
<rect x="431.21" y="326.4" width="11.4" height="11.4" fill="none" stroke="#BEBEBE" stroke-width="1.15"/>
<line x1="45.4" y1="742.92" x2="450.9" y2="742.92" stroke="#EBEBEB" stroke-width="0.7"/>
<line x1="45.4" y1="662.88" x2="450.9" y2="662.88" stroke="#EBEBEB" stroke-width="0.7"/>
<line x1="45.4" y1="582.82" x2="450.9" y2="582.82" stroke="#EBEBEB" stroke-width="0.7"/>
<line x1="45.4" y1="702.9" x2="450.9" y2="702.9" stroke="#EBEBEB" stroke-width="1.2"/>
<line x1="45.4" y1="622.85" x2="450.9" y2="622.85" stroke="#EBEBEB" stroke-width="1.2"/>
<line x1="45.4" y1="542.8" x2="450.9" y2="542.8" stroke="#EBEBEB" stroke-width="1.2"/>
<line x1="55.5" y1="522.2" x2="55.5" y2="778.8" stroke="#EBEBEB" stroke-width="1.2"/>
<line x1="72.27" y1="522.2" x2="72.27" y2="778.8" stroke="#EBEBEB" stroke-width="1.2"/>
<line x1="89.04" y1="522.2" x2="89.04" y2="778.8" stroke="#EBEBEB" stroke-width="1.2"/>
<line x1="105.81" y1="522.2" x2="105.81" y2="778.8" stroke="#EBEBEB" stroke-width="1.2"/>
<line x1="122.58" y1="522.2" x2="122.58" y2="778.8" stroke="#EBEBEB" stroke-width="1.2"/>
<line x1="139.35" y1="522.2" x2="139.35" y2="778.8" stroke="#EBEBEB" stroke-width="1.2"/>
<line x1="156.12" y1="522.2" x2="156.12" y2="778.8" stroke="#EBEBEB" stroke-width="1.2"/>
<line x1="172.89" y1="522.2" x2="172.89" y2="778.8" stroke="#EBEBEB" stroke-width="1.2"/>
<line x1="189.66" y1="522.2" x2="189.66" y2="778.8" stroke="#EBEBEB" stroke-width="1.2"/>
<line x1="206.43" y1="522.2" x2="206.43" y2="778.8" stroke="#EBEBEB" stroke-width="1.2"/>
<line x1="223.2" y1="522.2" x2="223.2" y2="778.8" stroke="#EBEBEB" stroke-width="1.2"/>
<line x1="239.97" y1="522.2" x2="239.97" y2="778.8" stroke="#EBEBEB" stroke-width="1.2"/>
<line x1="256.74" y1="522.2" x2="256.74" y2="778.8" stroke="#EBEBEB" stroke-width="1.2"/>
<line x1="273.51" y1="522.2" x2="273.51" y2="778.8" stroke="#EBEBEB" stroke-width="1.2"/>
<line x1="290.28" y1="522.2" x2="290.28" y2="778.8" stroke="#EBEBEB" stroke-width="1.2"/>
<line x1="307.05" y1="522.2" x2="307.05" y2="778.8" stroke="#EBEBEB" stroke-width="1.2"/>
<line x1="323.82" y1="522.2" x2="323.82" y2="778.8" stroke="#EBEBEB" stroke-width="1.2"/>
<line x1="340.59" y1="522.2" x2="340.59" y2="778.8" stroke="#EBEBEB" stroke-width="1.2"/>
<line x1="357.36" y1="522.2" x2="357.36" y2="778.8" stroke="#EBEBEB" stroke-width="1.2"/>
<line x1="374.13" y1="522.2" x2="374.13" y2="778.8" stroke="#EBEBEB" stroke-width="1.2"/>
<line x1="390.9" y1="522.2" x2="390.9" y2="778.8" stroke="#EBEBEB" stroke-width="1.2"/>
<line x1="407.67" y1="522.2" x2="407.67" y2="778.8" stroke="#EBEBEB" stroke-width="1.2"/>
<line x1="424.44" y1="522.2" x2="424.44" y2="778.8" stroke="#EBEBEB" stroke-width="1.2"/>
<line x1="441.21" y1="522.2" x2="441.21" y2="778.8" stroke="#EBEBEB" stroke-width="1.2"/>
<line x1="59.8" y1="632" x2="59.8" y2="659.9" stroke="#4FC4CA" stroke-width="2.1"/>
<line x1="76.57" y1="622.6" x2="76.57" y2="652.1" stroke="#4FC4CA" stroke-width="2.1"/>
<line x1="93.34" y1="622.1" x2="93.34" y2="652.1" stroke="#4FC4CA" stroke-width="2.1"/>
<line x1="110.11" y1="631.5" x2="110.11" y2="659.3" stroke="#4FC4CA" stroke-width="2.1"/>
<line x1="126.88" y1="633.8" x2="126.88" y2="666.6" stroke="#4FC4CA" stroke-width="2.1"/>
<line x1="143.65" y1="631.5" x2="143.65" y2="659.3" stroke="#4FC4CA" stroke-width="2.1"/>
<line x1="160.42" y1="616" x2="160.42" y2="649.3" stroke="#4FC4CA" stroke-width="2.1"/>
<line x1="177.19" y1="621.5" x2="177.19" y2="655.5" stroke="#4FC4CA" stroke-width="2.1"/>
<line x1="193.96" y1="620.4" x2="193.96" y2="651.5" stroke="#4FC4CA" stroke-width="2.1"/>
<line x1="210.73" y1="623.3" x2="210.73" y2="653.2" stroke="#4FC4CA" stroke-width="2.1"/>
<line x1="227.5" y1="639.5" x2="227.5" y2="671" stroke="#4FC4CA" stroke-width="2.1"/>
<line x1="244.27" y1="642.6" x2="244.27" y2="675" stroke="#4FC4CA" stroke-width="2.1"/>
<line x1="261.04" y1="662.1" x2="261.04" y2="685" stroke="#4FC4CA" stroke-width="2.1"/>
<line x1="277.81" y1="670.3" x2="277.81" y2="699.9" stroke="#4FC4CA" stroke-width="2.1"/>
<line x1="294.58" y1="687.7" x2="294.58" y2="716.5" stroke="#4FC4CA" stroke-width="2.1"/>
<line x1="311.35" y1="703.2" x2="311.35" y2="729.2" stroke="#4FC4CA" stroke-width="2.1"/>
<line x1="328.12" y1="712.1" x2="328.12" y2="736.5" stroke="#4FC4CA" stroke-width="2.1"/>
<line x1="344.89" y1="713.6" x2="344.89" y2="737.6" stroke="#4FC4CA" stroke-width="2.1"/>
<line x1="361.66" y1="715.4" x2="361.66" y2="735.4" stroke="#4FC4CA" stroke-width="2.1"/>
<line x1="378.43" y1="693.7" x2="378.43" y2="723.2" stroke="#4FC4CA" stroke-width="2.1"/>
<line x1="395.2" y1="684.3" x2="395.2" y2="715.4" stroke="#4FC4CA" stroke-width="2.1"/>
<line x1="411.97" y1="661" x2="411.97" y2="699.8" stroke="#4FC4CA" stroke-width="2.1"/>
<line x1="428.74" y1="653.7" x2="428.74" y2="688.3" stroke="#4FC4CA" stroke-width="2.1"/>
<line x1="445.51" y1="644.3" x2="445.51" y2="678.7" stroke="#4FC4CA" stroke-width="2.1"/>
<line x1="55.5" y1="614.4" x2="55.5" y2="645" stroke="#F8766D" stroke-width="2.1"/>
<line x1="72.27" y1="604.4" x2="72.27" y2="667.6" stroke="#F8766D" stroke-width="2.1"/>
<line x1="89.04" y1="628.8" x2="89.04" y2="662.1" stroke="#F8766D" stroke-width="2.1"/>
<line x1="105.81" y1="603.1" x2="105.81" y2="640" stroke="#F8766D" stroke-width="2.1"/>
<line x1="122.58" y1="589.4" x2="122.58" y2="631.5" stroke="#F8766D" stroke-width="2.1"/>
<line x1="139.35" y1="598.2" x2="139.35" y2="649.3" stroke="#F8766D" stroke-width="2.1"/>
<line x1="156.12" y1="580.5" x2="156.12" y2="626" stroke="#F8766D" stroke-width="2.1"/>
<line x1="172.89" y1="557.2" x2="172.89" y2="614.9" stroke="#F8766D" stroke-width="2.1"/>
<line x1="189.66" y1="580.5" x2="189.66" y2="629.3" stroke="#F8766D" stroke-width="2.1"/>
<line x1="206.43" y1="609.3" x2="206.43" y2="654.3" stroke="#F8766D" stroke-width="2.1"/>
<line x1="223.2" y1="588.9" x2="223.2" y2="643.2" stroke="#F8766D" stroke-width="2.1"/>
<line x1="239.97" y1="610.6" x2="239.97" y2="651" stroke="#F8766D" stroke-width="2.1"/>
<line x1="256.74" y1="631.7" x2="256.74" y2="678.8" stroke="#F8766D" stroke-width="2.1"/>
<line x1="273.51" y1="637.7" x2="273.51" y2="677.7" stroke="#F8766D" stroke-width="2.1"/>
<line x1="290.28" y1="654.8" x2="290.28" y2="694.8" stroke="#F8766D" stroke-width="2.1"/>
<line x1="307.05" y1="681" x2="307.05" y2="723.8" stroke="#F8766D" stroke-width="2.1"/>
<line x1="323.82" y1="697.7" x2="323.82" y2="746.5" stroke="#F8766D" stroke-width="2.1"/>
<line x1="340.59" y1="714.3" x2="340.59" y2="756.5" stroke="#F8766D" stroke-width="2.1"/>
<line x1="357.36" y1="716.5" x2="357.36" y2="762" stroke="#F8766D" stroke-width="2.1"/>
<line x1="374.13" y1="717.6" x2="374.13" y2="758.7" stroke="#F8766D" stroke-width="2.1"/>
<line x1="390.9" y1="713.2" x2="390.9" y2="768.2" stroke="#F8766D" stroke-width="2.1"/>
<line x1="407.67" y1="637.7" x2="407.67" y2="719.8" stroke="#F8766D" stroke-width="2.1"/>
<line x1="424.44" y1="604.4" x2="424.44" y2="682.1" stroke="#F8766D" stroke-width="2.1"/>
<line x1="441.21" y1="595.1" x2="441.21" y2="681" stroke="#F8766D" stroke-width="2.1"/>
<line x1="51.2" y1="575.5" x2="51.2" y2="676.5" stroke="#BEBEBE" stroke-width="2.1" stroke-dasharray="7.65 7.65"/>
<rect x="50.15" y="674.9" width="2.1" height="1.6" fill="#BEBEBE"/>
<line x1="67.97" y1="541.5" x2="67.97" y2="651" stroke="#BEBEBE" stroke-width="2.1" stroke-dasharray="7.65 7.65"/>
<rect x="66.92" y="649.4" width="2.1" height="1.6" fill="#BEBEBE"/>
<line x1="84.74" y1="562.2" x2="84.74" y2="697.6" stroke="#BEBEBE" stroke-width="2.1" stroke-dasharray="7.65 7.65"/>
<rect x="83.69" y="696" width="2.1" height="1.6" fill="#BEBEBE"/>
<line x1="101.51" y1="578.3" x2="101.51" y2="671.5" stroke="#BEBEBE" stroke-width="2.1" stroke-dasharray="7.65 7.65"/>
<rect x="100.46" y="669.9" width="2.1" height="1.6" fill="#BEBEBE"/>
<line x1="118.28" y1="553.9" x2="118.28" y2="668.2" stroke="#BEBEBE" stroke-width="2.1" stroke-dasharray="7.65 7.65"/>
<rect x="117.23" y="666.6" width="2.1" height="1.6" fill="#BEBEBE"/>
<line x1="135.05" y1="532.8" x2="135.05" y2="636" stroke="#BEBEBE" stroke-width="2.1" stroke-dasharray="7.65 7.65"/>
<rect x="134" y="634.4" width="2.1" height="1.6" fill="#BEBEBE"/>
<line x1="151.82" y1="583.2" x2="151.82" y2="659.3" stroke="#BEBEBE" stroke-width="2.1" stroke-dasharray="7.65 7.65"/>
<rect x="150.77" y="657.7" width="2.1" height="1.6" fill="#BEBEBE"/>
<line x1="168.59" y1="592.7" x2="168.59" y2="680.4" stroke="#BEBEBE" stroke-width="2.1" stroke-dasharray="7.65 7.65"/>
<rect x="167.54" y="678.8" width="2.1" height="1.6" fill="#BEBEBE"/>
<line x1="185.36" y1="594.9" x2="185.36" y2="677" stroke="#BEBEBE" stroke-width="2.1" stroke-dasharray="7.65 7.65"/>
<rect x="184.31" y="675.4" width="2.1" height="1.6" fill="#BEBEBE"/>
<line x1="202.13" y1="594.4" x2="202.13" y2="663.2" stroke="#BEBEBE" stroke-width="2.1" stroke-dasharray="7.65 7.65"/>
<rect x="201.08" y="661.6" width="2.1" height="1.6" fill="#BEBEBE"/>
<line x1="218.9" y1="625.5" x2="218.9" y2="678.7" stroke="#BEBEBE" stroke-width="2.1" stroke-dasharray="7.65 7.65"/>
<rect x="217.85" y="677.1" width="2.1" height="1.6" fill="#BEBEBE"/>
<line x1="235.67" y1="592.8" x2="235.67" y2="678.7" stroke="#BEBEBE" stroke-width="2.1" stroke-dasharray="7.65 7.65"/>
<rect x="234.62" y="677.1" width="2.1" height="1.6" fill="#BEBEBE"/>
<line x1="252.44" y1="631.1" x2="252.44" y2="704.3" stroke="#BEBEBE" stroke-width="2.1" stroke-dasharray="7.65 7.65"/>
<rect x="251.39" y="702.7" width="2.1" height="1.6" fill="#BEBEBE"/>
<line x1="269.21" y1="633.3" x2="269.21" y2="705.4" stroke="#BEBEBE" stroke-width="2.1" stroke-dasharray="7.65 7.65"/>
<rect x="268.16" y="703.8" width="2.1" height="1.6" fill="#BEBEBE"/>
<line x1="285.98" y1="642.2" x2="285.98" y2="709.9" stroke="#BEBEBE" stroke-width="2.1" stroke-dasharray="7.65 7.65"/>
<rect x="284.93" y="708.3" width="2.1" height="1.6" fill="#BEBEBE"/>
<line x1="302.75" y1="663.3" x2="302.75" y2="722.1" stroke="#BEBEBE" stroke-width="2.1" stroke-dasharray="7.65 7.65"/>
<rect x="301.7" y="720.5" width="2.1" height="1.6" fill="#BEBEBE"/>
<line x1="319.52" y1="678.1" x2="319.52" y2="747.6" stroke="#BEBEBE" stroke-width="2.1" stroke-dasharray="7.65 7.65"/>
<rect x="318.47" y="746" width="2.1" height="1.6" fill="#BEBEBE"/>
<line x1="336.29" y1="663.3" x2="336.29" y2="717.2" stroke="#BEBEBE" stroke-width="2.1" stroke-dasharray="7.65 7.65"/>
<rect x="335.24" y="715.6" width="2.1" height="1.6" fill="#BEBEBE"/>
<line x1="353.06" y1="667.7" x2="353.06" y2="762" stroke="#BEBEBE" stroke-width="2.1" stroke-dasharray="7.65 7.65"/>
<rect x="352.01" y="760.4" width="2.1" height="1.6" fill="#BEBEBE"/>
<line x1="369.83" y1="659.9" x2="369.83" y2="730.9" stroke="#BEBEBE" stroke-width="2.1" stroke-dasharray="7.65 7.65"/>
<rect x="368.78" y="729.3" width="2.1" height="1.6" fill="#BEBEBE"/>
<line x1="386.6" y1="679.5" x2="386.6" y2="728.7" stroke="#BEBEBE" stroke-width="2.1" stroke-dasharray="7.65 7.65"/>
<rect x="385.55" y="727.1" width="2.1" height="1.6" fill="#BEBEBE"/>
<line x1="403.37" y1="636.6" x2="403.37" y2="699.8" stroke="#BEBEBE" stroke-width="2.1" stroke-dasharray="7.65 7.65"/>
<rect x="402.32" y="698.2" width="2.1" height="1.6" fill="#BEBEBE"/>
<line x1="420.14" y1="594.4" x2="420.14" y2="671" stroke="#BEBEBE" stroke-width="2.1" stroke-dasharray="7.65 7.65"/>
<rect x="419.09" y="669.4" width="2.1" height="1.6" fill="#BEBEBE"/>
<line x1="436.91" y1="601.7" x2="436.91" y2="699.8" stroke="#BEBEBE" stroke-width="2.1" stroke-dasharray="7.65 7.65"/>
<rect x="435.86" y="698.2" width="2.1" height="1.6" fill="#BEBEBE"/>
<rect x="53.95" y="638.75" width="11.7" height="11.7" fill="#4FC4CA"/>
<rect x="70.72" y="630.95" width="11.7" height="11.7" fill="#4FC4CA"/>
<rect x="87.49" y="630.95" width="11.7" height="11.7" fill="#4FC4CA"/>
<rect x="104.26" y="637.15" width="11.7" height="11.7" fill="#4FC4CA"/>
<rect x="121.03" y="644.75" width="11.7" height="11.7" fill="#4FC4CA"/>
<rect x="137.8" y="637.15" width="11.7" height="11.7" fill="#4FC4CA"/>
<rect x="154.57" y="627.05" width="11.7" height="11.7" fill="#4FC4CA"/>
<rect x="171.34" y="632.65" width="11.7" height="11.7" fill="#4FC4CA"/>
<rect x="188.11" y="630.45" width="11.7" height="11.7" fill="#4FC4CA"/>
<rect x="204.88" y="632.15" width="11.7" height="11.7" fill="#4FC4CA"/>
<rect x="221.65" y="649.25" width="11.7" height="11.7" fill="#4FC4CA"/>
<rect x="238.42" y="652.95" width="11.7" height="11.7" fill="#4FC4CA"/>
<rect x="255.19" y="663.15" width="11.7" height="11.7" fill="#4FC4CA"/>
<rect x="271.96" y="678.75" width="11.7" height="11.7" fill="#4FC4CA"/>
<rect x="288.73" y="696.05" width="11.7" height="11.7" fill="#4FC4CA"/>
<rect x="305.5" y="710.95" width="11.7" height="11.7" fill="#4FC4CA"/>
<rect x="322.27" y="718.95" width="11.7" height="11.7" fill="#4FC4CA"/>
<rect x="339.04" y="721.05" width="11.7" height="11.7" fill="#4FC4CA"/>
<rect x="355.81" y="723.25" width="11.7" height="11.7" fill="#4FC4CA"/>
<rect x="372.58" y="702.55" width="11.7" height="11.7" fill="#4FC4CA"/>
<rect x="389.35" y="694.35" width="11.7" height="11.7" fill="#4FC4CA"/>
<rect x="406.12" y="674.95" width="11.7" height="11.7" fill="#4FC4CA"/>
<rect x="422.89" y="664.75" width="11.7" height="11.7" fill="#4FC4CA"/>
<rect x="439.66" y="655.65" width="11.7" height="11.7" fill="#4FC4CA"/>
<rect x="49.65" y="624.05" width="11.7" height="11.7" fill="#F8766D"/>
<rect x="66.42" y="629.95" width="11.7" height="11.7" fill="#F8766D"/>
<rect x="83.19" y="639.75" width="11.7" height="11.7" fill="#F8766D"/>
<rect x="99.96" y="619.35" width="11.7" height="11.7" fill="#F8766D"/>
<rect x="116.73" y="604.65" width="11.7" height="11.7" fill="#F8766D"/>
<rect x="133.5" y="618.65" width="11.7" height="11.7" fill="#F8766D"/>
<rect x="150.27" y="599.05" width="11.7" height="11.7" fill="#F8766D"/>
<rect x="167.04" y="580.15" width="11.7" height="11.7" fill="#F8766D"/>
<rect x="183.81" y="602.15" width="11.7" height="11.7" fill="#F8766D"/>
<rect x="200.58" y="625.75" width="11.7" height="11.7" fill="#F8766D"/>
<rect x="217.35" y="610.55" width="11.7" height="11.7" fill="#F8766D"/>
<rect x="234.12" y="628.75" width="11.7" height="11.7" fill="#F8766D"/>
<rect x="250.89" y="649.85" width="11.7" height="11.7" fill="#F8766D"/>
<rect x="267.66" y="658.25" width="11.7" height="11.7" fill="#F8766D"/>
<rect x="284.43" y="675.45" width="11.7" height="11.7" fill="#F8766D"/>
<rect x="301.2" y="696.75" width="11.7" height="11.7" fill="#F8766D"/>
<rect x="317.97" y="715.85" width="11.7" height="11.7" fill="#F8766D"/>
<rect x="334.74" y="729.85" width="11.7" height="11.7" fill="#F8766D"/>
<rect x="351.51" y="733.45" width="11.7" height="11.7" fill="#F8766D"/>
<rect x="368.28" y="732.05" width="11.7" height="11.7" fill="#F8766D"/>
<rect x="385.05" y="734.85" width="11.7" height="11.7" fill="#F8766D"/>
<rect x="401.82" y="673.65" width="11.7" height="11.7" fill="#F8766D"/>
<rect x="418.59" y="638.15" width="11.7" height="11.7" fill="#F8766D"/>
<rect x="435.36" y="632.15" width="11.7" height="11.7" fill="#F8766D"/>
<rect x="45.5" y="620.5" width="11.4" height="11.4" fill="none" stroke="#BEBEBE" stroke-width="1.15"/>
<rect x="62.27" y="590.3" width="11.4" height="11.4" fill="none" stroke="#BEBEBE" stroke-width="1.15"/>
<rect x="79.04" y="624.4" width="11.4" height="11.4" fill="none" stroke="#BEBEBE" stroke-width="1.15"/>
<rect x="95.81" y="619.5" width="11.4" height="11.4" fill="none" stroke="#BEBEBE" stroke-width="1.15"/>
<rect x="112.58" y="605.5" width="11.4" height="11.4" fill="none" stroke="#BEBEBE" stroke-width="1.15"/>
<rect x="129.35" y="568.7" width="11.4" height="11.4" fill="none" stroke="#BEBEBE" stroke-width="1.15"/>
<rect x="146.12" y="615.3" width="11.4" height="11.4" fill="none" stroke="#BEBEBE" stroke-width="1.15"/>
<rect x="162.89" y="631.4" width="11.4" height="11.4" fill="none" stroke="#BEBEBE" stroke-width="1.15"/>
<rect x="179.66" y="629.9" width="11.4" height="11.4" fill="none" stroke="#BEBEBE" stroke-width="1.15"/>
<rect x="196.43" y="624" width="11.4" height="11.4" fill="none" stroke="#BEBEBE" stroke-width="1.15"/>
<rect x="213.2" y="639.7" width="11.4" height="11.4" fill="none" stroke="#BEBEBE" stroke-width="1.15"/>
<rect x="229.97" y="630.3" width="11.4" height="11.4" fill="none" stroke="#BEBEBE" stroke-width="1.15"/>
<rect x="246.74" y="661.2" width="11.4" height="11.4" fill="none" stroke="#BEBEBE" stroke-width="1.15"/>
<rect x="263.51" y="663.4" width="11.4" height="11.4" fill="none" stroke="#BEBEBE" stroke-width="1.15"/>
<rect x="280.28" y="670.1" width="11.4" height="11.4" fill="none" stroke="#BEBEBE" stroke-width="1.15"/>
<rect x="297.05" y="687.2" width="11.4" height="11.4" fill="none" stroke="#BEBEBE" stroke-width="1.15"/>
<rect x="313.82" y="707.5" width="11.4" height="11.4" fill="none" stroke="#BEBEBE" stroke-width="1.15"/>
<rect x="330.59" y="697.5" width="11.4" height="11.4" fill="none" stroke="#BEBEBE" stroke-width="1.15"/>
<rect x="347.36" y="709.4" width="11.4" height="11.4" fill="none" stroke="#BEBEBE" stroke-width="1.15"/>
<rect x="364.13" y="693.9" width="11.4" height="11.4" fill="none" stroke="#BEBEBE" stroke-width="1.15"/>
<rect x="380.9" y="706.6" width="11.4" height="11.4" fill="none" stroke="#BEBEBE" stroke-width="1.15"/>
<rect x="397.67" y="663.4" width="11.4" height="11.4" fill="none" stroke="#BEBEBE" stroke-width="1.15"/>
<rect x="414.44" y="627" width="11.4" height="11.4" fill="none" stroke="#BEBEBE" stroke-width="1.15"/>
<rect x="431.21" y="645.3" width="11.4" height="11.4" fill="none" stroke="#BEBEBE" stroke-width="1.15"/>
<line x1="485.3" y1="250.45" x2="708.4" y2="250.45" stroke="#EBEBEB" stroke-width="0.7"/>
<line x1="485.3" y1="190.95" x2="708.4" y2="190.95" stroke="#EBEBEB" stroke-width="0.7"/>
<line x1="485.3" y1="131.45" x2="708.4" y2="131.45" stroke="#EBEBEB" stroke-width="0.7"/>
<line x1="485.3" y1="71.95" x2="708.4" y2="71.95" stroke="#EBEBEB" stroke-width="0.7"/>
<line x1="485.3" y1="12.45" x2="708.4" y2="12.45" stroke="#EBEBEB" stroke-width="0.7"/>
<line x1="485.3" y1="220.7" x2="708.4" y2="220.7" stroke="#EBEBEB" stroke-width="1.2"/>
<line x1="485.3" y1="161.2" x2="708.4" y2="161.2" stroke="#EBEBEB" stroke-width="1.2"/>
<line x1="485.3" y1="101.7" x2="708.4" y2="101.7" stroke="#EBEBEB" stroke-width="1.2"/>
<line x1="485.3" y1="42.2" x2="708.4" y2="42.2" stroke="#EBEBEB" stroke-width="1.2"/>
<line x1="501.1" y1="4.3" x2="501.1" y2="258.1" stroke="#EBEBEB" stroke-width="1.2"/>
<line x1="528.46" y1="4.3" x2="528.46" y2="258.1" stroke="#EBEBEB" stroke-width="1.2"/>
<line x1="555.82" y1="4.3" x2="555.82" y2="258.1" stroke="#EBEBEB" stroke-width="1.2"/>
<line x1="583.18" y1="4.3" x2="583.18" y2="258.1" stroke="#EBEBEB" stroke-width="1.2"/>
<line x1="610.54" y1="4.3" x2="610.54" y2="258.1" stroke="#EBEBEB" stroke-width="1.2"/>
<line x1="637.9" y1="4.3" x2="637.9" y2="258.1" stroke="#EBEBEB" stroke-width="1.2"/>
<line x1="665.26" y1="4.3" x2="665.26" y2="258.1" stroke="#EBEBEB" stroke-width="1.2"/>
<line x1="692.62" y1="4.3" x2="692.62" y2="258.1" stroke="#EBEBEB" stroke-width="1.2"/>
<line x1="505.7" y1="126.5" x2="505.7" y2="145.4" stroke="#4FC4CA" stroke-width="2.1"/>
<line x1="533.06" y1="118.8" x2="533.06" y2="135.4" stroke="#4FC4CA" stroke-width="2.1"/>
<line x1="560.42" y1="131.6" x2="560.42" y2="147.2" stroke="#4FC4CA" stroke-width="2.1"/>
<line x1="587.78" y1="85.9" x2="587.78" y2="107.7" stroke="#4FC4CA" stroke-width="2.1"/>
<line x1="615.14" y1="88.8" x2="615.14" y2="109.9" stroke="#4FC4CA" stroke-width="2.1"/>
<line x1="642.5" y1="119.9" x2="642.5" y2="141" stroke="#4FC4CA" stroke-width="2.1"/>
<line x1="669.86" y1="142.6" x2="669.86" y2="163.8" stroke="#4FC4CA" stroke-width="2.1"/>
<line x1="697.22" y1="119.3" x2="697.22" y2="142.1" stroke="#4FC4CA" stroke-width="2.1"/>
<line x1="501.1" y1="113.2" x2="501.1" y2="156.5" stroke="#F8766D" stroke-width="2.1"/>
<line x1="528.46" y1="99.5" x2="528.46" y2="142.1" stroke="#F8766D" stroke-width="2.1"/>
<line x1="555.82" y1="133.2" x2="555.82" y2="172" stroke="#F8766D" stroke-width="2.1"/>
<line x1="583.18" y1="133.2" x2="583.18" y2="169.4" stroke="#F8766D" stroke-width="2.1"/>
<line x1="610.54" y1="128.1" x2="610.54" y2="165.8" stroke="#F8766D" stroke-width="2.1"/>
<line x1="637.9" y1="165.8" x2="637.9" y2="207.7" stroke="#F8766D" stroke-width="2.1"/>
<line x1="665.26" y1="202" x2="665.26" y2="247.8" stroke="#F8766D" stroke-width="2.1"/>
<line x1="692.62" y1="156.9" x2="692.62" y2="210.2" stroke="#F8766D" stroke-width="2.1"/>
<line x1="496.5" y1="14.5" x2="496.5" y2="111" stroke="#BEBEBE" stroke-width="2.1" stroke-dasharray="7.65 7.65"/>
<rect x="495.45" y="109.4" width="2.1" height="1.6" fill="#BEBEBE"/>
<line x1="523.86" y1="95.5" x2="523.86" y2="162" stroke="#BEBEBE" stroke-width="2.1" stroke-dasharray="7.65 7.65"/>
<rect x="522.81" y="160.4" width="2.1" height="1.6" fill="#BEBEBE"/>
<line x1="551.22" y1="43.4" x2="551.22" y2="107.7" stroke="#BEBEBE" stroke-width="2.1" stroke-dasharray="7.65 7.65"/>
<rect x="550.17" y="106.1" width="2.1" height="1.6" fill="#BEBEBE"/>
<line x1="578.58" y1="72.2" x2="578.58" y2="141" stroke="#BEBEBE" stroke-width="2.1" stroke-dasharray="7.65 7.65"/>
<rect x="577.53" y="139.4" width="2.1" height="1.6" fill="#BEBEBE"/>
<line x1="605.94" y1="76.6" x2="605.94" y2="128.8" stroke="#BEBEBE" stroke-width="2.1" stroke-dasharray="7.65 7.65"/>
<rect x="604.89" y="127.2" width="2.1" height="1.6" fill="#BEBEBE"/>
<line x1="633.3" y1="74.4" x2="633.3" y2="151" stroke="#BEBEBE" stroke-width="2.1" stroke-dasharray="7.65 7.65"/>
<rect x="632.25" y="149.4" width="2.1" height="1.6" fill="#BEBEBE"/>
<line x1="660.66" y1="135.3" x2="660.66" y2="203.7" stroke="#BEBEBE" stroke-width="2.1" stroke-dasharray="7.65 7.65"/>
<rect x="659.61" y="202.1" width="2.1" height="1.6" fill="#BEBEBE"/>
<line x1="688.02" y1="69.1" x2="688.02" y2="172.9" stroke="#BEBEBE" stroke-width="2.1" stroke-dasharray="7.65 7.65"/>
<rect x="686.97" y="171.3" width="2.1" height="1.6" fill="#BEBEBE"/>
<rect x="499.85" y="130.45" width="11.7" height="11.7" fill="#4FC4CA"/>
<rect x="527.21" y="119.75" width="11.7" height="11.7" fill="#4FC4CA"/>
<rect x="554.57" y="136.05" width="11.7" height="11.7" fill="#4FC4CA"/>
<rect x="581.93" y="91.35" width="11.7" height="11.7" fill="#4FC4CA"/>
<rect x="609.29" y="93.85" width="11.7" height="11.7" fill="#4FC4CA"/>
<rect x="636.65" y="124.95" width="11.7" height="11.7" fill="#4FC4CA"/>
<rect x="664.01" y="147.65" width="11.7" height="11.7" fill="#4FC4CA"/>
<rect x="691.37" y="125.15" width="11.7" height="11.7" fill="#4FC4CA"/>
<rect x="495.25" y="129.25" width="11.7" height="11.7" fill="#F8766D"/>
<rect x="522.61" y="114.95" width="11.7" height="11.7" fill="#F8766D"/>
<rect x="549.97" y="146.55" width="11.7" height="11.7" fill="#F8766D"/>
<rect x="577.33" y="145.85" width="11.7" height="11.7" fill="#F8766D"/>
<rect x="604.69" y="141.45" width="11.7" height="11.7" fill="#F8766D"/>
<rect x="632.05" y="180.75" width="11.7" height="11.7" fill="#F8766D"/>
<rect x="659.41" y="218.85" width="11.7" height="11.7" fill="#F8766D"/>
<rect x="686.77" y="177.55" width="11.7" height="11.7" fill="#F8766D"/>
<rect x="490.8" y="56.8" width="11.4" height="11.4" fill="none" stroke="#BEBEBE" stroke-width="1.15"/>
<rect x="518.16" y="123.4" width="11.4" height="11.4" fill="none" stroke="#BEBEBE" stroke-width="1.15"/>
<rect x="545.52" y="74" width="11.4" height="11.4" fill="none" stroke="#BEBEBE" stroke-width="1.15"/>
<rect x="572.88" y="104.5" width="11.4" height="11.4" fill="none" stroke="#BEBEBE" stroke-width="1.15"/>
<rect x="600.24" y="97.2" width="11.4" height="11.4" fill="none" stroke="#BEBEBE" stroke-width="1.15"/>
<rect x="627.6" y="106.8" width="11.4" height="11.4" fill="none" stroke="#BEBEBE" stroke-width="1.15"/>
<rect x="654.96" y="163.5" width="11.4" height="11.4" fill="none" stroke="#BEBEBE" stroke-width="1.15"/>
<rect x="682.32" y="115.3" width="11.4" height="11.4" fill="none" stroke="#BEBEBE" stroke-width="1.15"/>
<polyline points="496.5,62.5 523.86,129.1 551.22,79.7 578.58,110.2 605.94,102.9 633.3,112.5 660.66,169.2 688.02,121" fill="none" stroke="#BEBEBE" stroke-width="1.6" stroke-dasharray="5.4 5.8" stroke-linejoin="round"/>
<polyline points="501.1,135.1 528.46,120.8 555.82,152.4 583.18,151.7 610.54,147.3 637.9,186.6 665.26,224.7 692.62,183.4" fill="none" stroke="#F8766D" stroke-width="1.6" stroke-linejoin="round"/>
<polyline points="505.7,136.3 533.06,125.6 560.42,141.9 587.78,97.2 615.14,99.7 642.5,130.8 669.86,153.5 697.22,131" fill="none" stroke="#4FC4CA" stroke-width="1.6" stroke-linejoin="round"/>
<line x1="485.3" y1="459.93" x2="708.4" y2="459.93" stroke="#EBEBEB" stroke-width="0.7"/>
<line x1="485.3" y1="372.38" x2="708.4" y2="372.38" stroke="#EBEBEB" stroke-width="0.7"/>
<line x1="485.3" y1="284.83" x2="708.4" y2="284.83" stroke="#EBEBEB" stroke-width="0.7"/>
<line x1="485.3" y1="503.7" x2="708.4" y2="503.7" stroke="#EBEBEB" stroke-width="1.2"/>
<line x1="485.3" y1="416.15" x2="708.4" y2="416.15" stroke="#EBEBEB" stroke-width="1.2"/>
<line x1="485.3" y1="328.6" x2="708.4" y2="328.6" stroke="#EBEBEB" stroke-width="1.2"/>
<line x1="501.1" y1="262.6" x2="501.1" y2="516.4" stroke="#EBEBEB" stroke-width="1.2"/>
<line x1="528.46" y1="262.6" x2="528.46" y2="516.4" stroke="#EBEBEB" stroke-width="1.2"/>
<line x1="555.82" y1="262.6" x2="555.82" y2="516.4" stroke="#EBEBEB" stroke-width="1.2"/>
<line x1="583.18" y1="262.6" x2="583.18" y2="516.4" stroke="#EBEBEB" stroke-width="1.2"/>
<line x1="610.54" y1="262.6" x2="610.54" y2="516.4" stroke="#EBEBEB" stroke-width="1.2"/>
<line x1="637.9" y1="262.6" x2="637.9" y2="516.4" stroke="#EBEBEB" stroke-width="1.2"/>
<line x1="665.26" y1="262.6" x2="665.26" y2="516.4" stroke="#EBEBEB" stroke-width="1.2"/>
<line x1="692.62" y1="262.6" x2="692.62" y2="516.4" stroke="#EBEBEB" stroke-width="1.2"/>
<line x1="505.7" y1="371" x2="505.7" y2="387.6" stroke="#4FC4CA" stroke-width="2.1"/>
<line x1="533.06" y1="367.2" x2="533.06" y2="382.1" stroke="#4FC4CA" stroke-width="2.1"/>
<line x1="560.42" y1="388.8" x2="560.42" y2="405" stroke="#4FC4CA" stroke-width="2.1"/>
<line x1="587.78" y1="352.6" x2="587.78" y2="372.6" stroke="#4FC4CA" stroke-width="2.1"/>
<line x1="615.14" y1="355.5" x2="615.14" y2="372.8" stroke="#4FC4CA" stroke-width="2.1"/>
<line x1="642.5" y1="386.1" x2="642.5" y2="406.1" stroke="#4FC4CA" stroke-width="2.1"/>
<line x1="669.86" y1="416.7" x2="669.86" y2="434.5" stroke="#4FC4CA" stroke-width="2.1"/>
<line x1="697.22" y1="377.9" x2="697.22" y2="398" stroke="#4FC4CA" stroke-width="2.1"/>
<line x1="501.1" y1="340.6" x2="501.1" y2="374.3" stroke="#F8766D" stroke-width="2.1"/>
<line x1="528.46" y1="331.7" x2="528.46" y2="374" stroke="#F8766D" stroke-width="2.1"/>
<line x1="555.82" y1="365.5" x2="555.82" y2="391" stroke="#F8766D" stroke-width="2.1"/>
<line x1="583.18" y1="371" x2="583.18" y2="393.2" stroke="#F8766D" stroke-width="2.1"/>
<line x1="610.54" y1="369.9" x2="610.54" y2="398.1" stroke="#F8766D" stroke-width="2.1"/>
<line x1="637.9" y1="421" x2="637.9" y2="455.8" stroke="#F8766D" stroke-width="2.1"/>
<line x1="665.26" y1="470.3" x2="665.26" y2="505.6" stroke="#F8766D" stroke-width="2.1"/>
<line x1="692.62" y1="416.2" x2="692.62" y2="461.2" stroke="#F8766D" stroke-width="2.1"/>
<line x1="496.5" y1="272.5" x2="496.5" y2="375.4" stroke="#BEBEBE" stroke-width="2.1" stroke-dasharray="7.65 7.65"/>
<rect x="495.45" y="373.8" width="2.1" height="1.6" fill="#BEBEBE"/>
<line x1="523.86" y1="345.5" x2="523.86" y2="420.9" stroke="#BEBEBE" stroke-width="2.1" stroke-dasharray="7.65 7.65"/>
<rect x="522.81" y="419.3" width="2.1" height="1.6" fill="#BEBEBE"/>
<line x1="551.22" y1="306.2" x2="551.22" y2="391" stroke="#BEBEBE" stroke-width="2.1" stroke-dasharray="7.65 7.65"/>
<rect x="550.17" y="389.4" width="2.1" height="1.6" fill="#BEBEBE"/>
<line x1="578.58" y1="339.9" x2="578.58" y2="422.1" stroke="#BEBEBE" stroke-width="2.1" stroke-dasharray="7.65 7.65"/>
<rect x="577.53" y="420.5" width="2.1" height="1.6" fill="#BEBEBE"/>
<line x1="605.94" y1="342.2" x2="605.94" y2="405.4" stroke="#BEBEBE" stroke-width="2.1" stroke-dasharray="7.65 7.65"/>
<rect x="604.89" y="403.8" width="2.1" height="1.6" fill="#BEBEBE"/>
<line x1="633.3" y1="358.8" x2="633.3" y2="448.7" stroke="#BEBEBE" stroke-width="2.1" stroke-dasharray="7.65 7.65"/>
<rect x="632.25" y="447.1" width="2.1" height="1.6" fill="#BEBEBE"/>
<line x1="660.66" y1="441.8" x2="660.66" y2="505.6" stroke="#BEBEBE" stroke-width="2.1" stroke-dasharray="7.65 7.65"/>
<rect x="659.61" y="504" width="2.1" height="1.6" fill="#BEBEBE"/>
<line x1="688.02" y1="344.8" x2="688.02" y2="454.3" stroke="#BEBEBE" stroke-width="2.1" stroke-dasharray="7.65 7.65"/>
<rect x="686.97" y="452.7" width="2.1" height="1.6" fill="#BEBEBE"/>
<rect x="499.85" y="373.85" width="11.7" height="11.7" fill="#4FC4CA"/>
<rect x="527.21" y="369.55" width="11.7" height="11.7" fill="#4FC4CA"/>
<rect x="554.57" y="390.05" width="11.7" height="11.7" fill="#4FC4CA"/>
<rect x="581.93" y="356.05" width="11.7" height="11.7" fill="#4FC4CA"/>
<rect x="609.29" y="358.25" width="11.7" height="11.7" fill="#4FC4CA"/>
<rect x="636.65" y="390.55" width="11.7" height="11.7" fill="#4FC4CA"/>
<rect x="664.01" y="420.65" width="11.7" height="11.7" fill="#4FC4CA"/>
<rect x="691.37" y="382.75" width="11.7" height="11.7" fill="#4FC4CA"/>
<rect x="495.25" y="355.15" width="11.7" height="11.7" fill="#F8766D"/>
<rect x="522.61" y="346.95" width="11.7" height="11.7" fill="#F8766D"/>
<rect x="549.97" y="374.85" width="11.7" height="11.7" fill="#F8766D"/>
<rect x="577.33" y="372.25" width="11.7" height="11.7" fill="#F8766D"/>
<rect x="604.69" y="377.85" width="11.7" height="11.7" fill="#F8766D"/>
<rect x="632.05" y="432.15" width="11.7" height="11.7" fill="#F8766D"/>
<rect x="659.41" y="481.85" width="11.7" height="11.7" fill="#F8766D"/>
<rect x="686.77" y="433.35" width="11.7" height="11.7" fill="#F8766D"/>
<rect x="490.8" y="318.9" width="11.4" height="11.4" fill="none" stroke="#BEBEBE" stroke-width="1.15"/>
<rect x="518.16" y="377.5" width="11.4" height="11.4" fill="none" stroke="#BEBEBE" stroke-width="1.15"/>
<rect x="545.52" y="343.1" width="11.4" height="11.4" fill="none" stroke="#BEBEBE" stroke-width="1.15"/>
<rect x="572.88" y="375" width="11.4" height="11.4" fill="none" stroke="#BEBEBE" stroke-width="1.15"/>
<rect x="600.24" y="368.1" width="11.4" height="11.4" fill="none" stroke="#BEBEBE" stroke-width="1.15"/>
<rect x="627.6" y="397.8" width="11.4" height="11.4" fill="none" stroke="#BEBEBE" stroke-width="1.15"/>
<rect x="654.96" y="468.3" width="11.4" height="11.4" fill="none" stroke="#BEBEBE" stroke-width="1.15"/>
<rect x="682.32" y="394.1" width="11.4" height="11.4" fill="none" stroke="#BEBEBE" stroke-width="1.15"/>
<polyline points="496.5,324.6 523.86,383.2 551.22,348.8 578.58,380.7 605.94,373.8 633.3,403.5 660.66,474 688.02,399.8" fill="none" stroke="#BEBEBE" stroke-width="1.6" stroke-dasharray="5.4 5.8" stroke-linejoin="round"/>
<polyline points="501.1,361 528.46,352.8 555.82,380.7 583.18,378.1 610.54,383.7 637.9,438 665.26,487.7 692.62,439.2" fill="none" stroke="#F8766D" stroke-width="1.6" stroke-linejoin="round"/>
<polyline points="505.7,379.7 533.06,375.4 560.42,395.9 587.78,361.9 615.14,364.1 642.5,396.4 669.86,426.5 697.22,388.6" fill="none" stroke="#4FC4CA" stroke-width="1.6" stroke-linejoin="round"/>
<line x1="485.3" y1="724.88" x2="708.4" y2="724.88" stroke="#EBEBEB" stroke-width="0.7"/>
<line x1="485.3" y1="672.02" x2="708.4" y2="672.02" stroke="#EBEBEB" stroke-width="0.7"/>
<line x1="485.3" y1="619.17" x2="708.4" y2="619.17" stroke="#EBEBEB" stroke-width="0.7"/>
<line x1="485.3" y1="566.32" x2="708.4" y2="566.32" stroke="#EBEBEB" stroke-width="0.7"/>
<line x1="485.3" y1="751.3" x2="708.4" y2="751.3" stroke="#EBEBEB" stroke-width="1.2"/>
<line x1="485.3" y1="698.45" x2="708.4" y2="698.45" stroke="#EBEBEB" stroke-width="1.2"/>
<line x1="485.3" y1="645.6" x2="708.4" y2="645.6" stroke="#EBEBEB" stroke-width="1.2"/>
<line x1="485.3" y1="592.75" x2="708.4" y2="592.75" stroke="#EBEBEB" stroke-width="1.2"/>
<line x1="485.3" y1="539.9" x2="708.4" y2="539.9" stroke="#EBEBEB" stroke-width="1.2"/>
<line x1="501.1" y1="520.7" x2="501.1" y2="774.4" stroke="#EBEBEB" stroke-width="1.2"/>
<line x1="528.46" y1="520.7" x2="528.46" y2="774.4" stroke="#EBEBEB" stroke-width="1.2"/>
<line x1="555.82" y1="520.7" x2="555.82" y2="774.4" stroke="#EBEBEB" stroke-width="1.2"/>
<line x1="583.18" y1="520.7" x2="583.18" y2="774.4" stroke="#EBEBEB" stroke-width="1.2"/>
<line x1="610.54" y1="520.7" x2="610.54" y2="774.4" stroke="#EBEBEB" stroke-width="1.2"/>
<line x1="637.9" y1="520.7" x2="637.9" y2="774.4" stroke="#EBEBEB" stroke-width="1.2"/>
<line x1="665.26" y1="520.7" x2="665.26" y2="774.4" stroke="#EBEBEB" stroke-width="1.2"/>
<line x1="692.62" y1="520.7" x2="692.62" y2="774.4" stroke="#EBEBEB" stroke-width="1.2"/>
<line x1="505.7" y1="642.1" x2="505.7" y2="670.5" stroke="#4FC4CA" stroke-width="2.1"/>
<line x1="533.06" y1="603.4" x2="533.06" y2="625.7" stroke="#4FC4CA" stroke-width="2.1"/>
<line x1="560.42" y1="610" x2="560.42" y2="634.8" stroke="#4FC4CA" stroke-width="2.1"/>
<line x1="587.78" y1="597.7" x2="587.78" y2="622.4" stroke="#4FC4CA" stroke-width="2.1"/>
<line x1="615.14" y1="617.7" x2="615.14" y2="641" stroke="#4FC4CA" stroke-width="2.1"/>
<line x1="642.5" y1="663.2" x2="642.5" y2="686.5" stroke="#4FC4CA" stroke-width="2.1"/>
<line x1="669.86" y1="715" x2="669.86" y2="735.2" stroke="#4FC4CA" stroke-width="2.1"/>
<line x1="697.22" y1="700.3" x2="697.22" y2="722.9" stroke="#4FC4CA" stroke-width="2.1"/>
<line x1="501.1" y1="603.3" x2="501.1" y2="665.4" stroke="#F8766D" stroke-width="2.1"/>
<line x1="528.46" y1="594.5" x2="528.46" y2="628" stroke="#F8766D" stroke-width="2.1"/>
<line x1="555.82" y1="573.7" x2="555.82" y2="606.1" stroke="#F8766D" stroke-width="2.1"/>
<line x1="583.18" y1="542.4" x2="583.18" y2="582.4" stroke="#F8766D" stroke-width="2.1"/>
<line x1="610.54" y1="580.2" x2="610.54" y2="615.5" stroke="#F8766D" stroke-width="2.1"/>
<line x1="637.9" y1="632.2" x2="637.9" y2="663.9" stroke="#F8766D" stroke-width="2.1"/>
<line x1="665.26" y1="704.1" x2="665.26" y2="738.2" stroke="#F8766D" stroke-width="2.1"/>
<line x1="692.62" y1="729.1" x2="692.62" y2="764" stroke="#F8766D" stroke-width="2.1"/>
<line x1="496.5" y1="599.9" x2="496.5" y2="659.9" stroke="#BEBEBE" stroke-width="2.1" stroke-dasharray="7.65 7.65"/>
<rect x="495.45" y="658.3" width="2.1" height="1.6" fill="#BEBEBE"/>
<line x1="523.86" y1="543.2" x2="523.86" y2="597.5" stroke="#BEBEBE" stroke-width="2.1" stroke-dasharray="7.65 7.65"/>
<rect x="522.81" y="595.9" width="2.1" height="1.6" fill="#BEBEBE"/>
<line x1="551.22" y1="531.5" x2="551.22" y2="602.8" stroke="#BEBEBE" stroke-width="2.1" stroke-dasharray="7.65 7.65"/>
<rect x="550.17" y="601.2" width="2.1" height="1.6" fill="#BEBEBE"/>
<line x1="578.58" y1="573.7" x2="578.58" y2="634" stroke="#BEBEBE" stroke-width="2.1" stroke-dasharray="7.65 7.65"/>
<rect x="577.53" y="632.4" width="2.1" height="1.6" fill="#BEBEBE"/>
<line x1="605.94" y1="583" x2="605.94" y2="638.2" stroke="#BEBEBE" stroke-width="2.1" stroke-dasharray="7.65 7.65"/>
<rect x="604.89" y="636.6" width="2.1" height="1.6" fill="#BEBEBE"/>
<line x1="633.3" y1="630.6" x2="633.3" y2="682.5" stroke="#BEBEBE" stroke-width="2.1" stroke-dasharray="7.65 7.65"/>
<rect x="632.25" y="680.9" width="2.1" height="1.6" fill="#BEBEBE"/>
<line x1="660.66" y1="673.3" x2="660.66" y2="705" stroke="#BEBEBE" stroke-width="2.1" stroke-dasharray="7.65 7.65"/>
<rect x="659.61" y="703.4" width="2.1" height="1.6" fill="#BEBEBE"/>
<line x1="688.02" y1="675.8" x2="688.02" y2="736.6" stroke="#BEBEBE" stroke-width="2.1" stroke-dasharray="7.65 7.65"/>
<rect x="686.97" y="735" width="2.1" height="1.6" fill="#BEBEBE"/>
<rect x="499.85" y="650.45" width="11.7" height="11.7" fill="#4FC4CA"/>
<rect x="527.21" y="609.35" width="11.7" height="11.7" fill="#4FC4CA"/>
<rect x="554.57" y="616.95" width="11.7" height="11.7" fill="#4FC4CA"/>
<rect x="581.93" y="604.55" width="11.7" height="11.7" fill="#4FC4CA"/>
<rect x="609.29" y="623.85" width="11.7" height="11.7" fill="#4FC4CA"/>
<rect x="636.65" y="668.75" width="11.7" height="11.7" fill="#4FC4CA"/>
<rect x="664.01" y="719.35" width="11.7" height="11.7" fill="#4FC4CA"/>
<rect x="691.37" y="705.95" width="11.7" height="11.7" fill="#4FC4CA"/>
<rect x="495.25" y="628.95" width="11.7" height="11.7" fill="#F8766D"/>
<rect x="522.61" y="605.45" width="11.7" height="11.7" fill="#F8766D"/>
<rect x="549.97" y="583.25" width="11.7" height="11.7" fill="#F8766D"/>
<rect x="577.33" y="556.75" width="11.7" height="11.7" fill="#F8766D"/>
<rect x="604.69" y="592.55" width="11.7" height="11.7" fill="#F8766D"/>
<rect x="632.05" y="645.55" width="11.7" height="11.7" fill="#F8766D"/>
<rect x="659.41" y="715.05" width="11.7" height="11.7" fill="#F8766D"/>
<rect x="686.77" y="740.65" width="11.7" height="11.7" fill="#F8766D"/>
<rect x="490.8" y="624.2" width="11.4" height="11.4" fill="none" stroke="#BEBEBE" stroke-width="1.15"/>
<rect x="518.16" y="579.3" width="11.4" height="11.4" fill="none" stroke="#BEBEBE" stroke-width="1.15"/>
<rect x="545.52" y="561.6" width="11.4" height="11.4" fill="none" stroke="#BEBEBE" stroke-width="1.15"/>
<rect x="572.88" y="598.5" width="11.4" height="11.4" fill="none" stroke="#BEBEBE" stroke-width="1.15"/>
<rect x="600.24" y="605.1" width="11.4" height="11.4" fill="none" stroke="#BEBEBE" stroke-width="1.15"/>
<rect x="627.6" y="651.3" width="11.4" height="11.4" fill="none" stroke="#BEBEBE" stroke-width="1.15"/>
<rect x="654.96" y="693.4" width="11.4" height="11.4" fill="none" stroke="#BEBEBE" stroke-width="1.15"/>
<rect x="682.32" y="700.4" width="11.4" height="11.4" fill="none" stroke="#BEBEBE" stroke-width="1.15"/>
<polyline points="496.5,629.9 523.86,585 551.22,567.3 578.58,604.2 605.94,610.8 633.3,657 660.66,699.1 688.02,706.1" fill="none" stroke="#BEBEBE" stroke-width="1.6" stroke-dasharray="5.4 5.8" stroke-linejoin="round"/>
<polyline points="501.1,634.8 528.46,611.3 555.82,589.1 583.18,562.6 610.54,598.4 637.9,651.4 665.26,720.9 692.62,746.5" fill="none" stroke="#F8766D" stroke-width="1.6" stroke-linejoin="round"/>
<polyline points="505.7,656.3 533.06,615.2 560.42,622.8 587.78,610.4 615.14,629.7 642.5,674.6 669.86,725.2 697.22,711.8" fill="none" stroke="#4FC4CA" stroke-width="1.6" stroke-linejoin="round"/>
<path d="M332.4 71.4V65H352.2V71.4" fill="none" stroke="#000" stroke-width="1.35"/>
<path d="M339.16 57.3H344.96M340.61 54.8L343.51 59.8M343.51 54.8L340.61 59.8" stroke="#000" stroke-width="1.15" fill="none"/>
<circle cx="342.06" cy="57.3" r="1.1" fill="#000"/>
<path d="M332.4 329.3V322.6H352.2V329.3" fill="none" stroke="#000" stroke-width="1.35"/>
<path d="M339.2 315H345M340.65 312.5L343.55 317.5M343.55 312.5L340.65 317.5" stroke="#000" stroke-width="1.15" fill="none"/>
<circle cx="342.1" cy="315" r="1.1" fill="#000"/>
<path d="M571.5 49.4V42.8H674.4V49.4" fill="none" stroke="#000" stroke-width="1.35"/>
<path d="M579.2 35.6H585M580.65 33.1L583.55 38.1M583.55 33.1L580.65 38.1" stroke="#000" stroke-width="1.15" fill="none"/>
<circle cx="582.1" cy="35.6" r="1.1" fill="#000"/>
<path d="M606.7 35.6H612.5M608.15 33.1L611.05 38.1M611.05 33.1L608.15 38.1" stroke="#000" stroke-width="1.15" fill="none"/>
<circle cx="609.6" cy="35.6" r="1.1" fill="#000"/>
<path d="M633.6 35.6H639.4M635.05 33.1L637.95 38.1M637.95 33.1L635.05 38.1" stroke="#000" stroke-width="1.15" fill="none"/>
<circle cx="636.5" cy="35.6" r="1.1" fill="#000"/>
<path d="M660.9 35.6H666.7M662.35 33.1L665.25 38.1M665.25 33.1L662.35 38.1" stroke="#000" stroke-width="1.15" fill="none"/>
<circle cx="663.8" cy="35.6" r="1.1" fill="#000"/>
<path d="M624.3 335.6V329.4H701.7V335.6" fill="none" stroke="#000" stroke-width="1.35"/>
<path d="M631.7 321.7H637.5M633.15 319.2L636.05 324.2M636.05 319.2L633.15 324.2" stroke="#000" stroke-width="1.15" fill="none"/>
<circle cx="634.6" cy="321.7" r="1.1" fill="#000"/>
<path d="M659.1 321.7H664.9M660.55 319.2L663.45 324.2M663.45 319.2L660.55 324.2" stroke="#000" stroke-width="1.15" fill="none"/>
<circle cx="662" cy="321.7" r="1.1" fill="#000"/>
<path d="M686 321.7H691.8M687.45 319.2L690.35 324.2M690.35 319.2L687.45 324.2" stroke="#000" stroke-width="1.15" fill="none"/>
<circle cx="688.9" cy="321.7" r="1.1" fill="#000"/>
<path d="M574.7 540.2V533.6H596.2V540.2" fill="none" stroke="#000" stroke-width="1.35"/>
<path d="M582.4 527.1H588.2M583.85 524.6L586.75 529.6M586.75 524.6L583.85 529.6" stroke="#000" stroke-width="1.15" fill="none"/>
<circle cx="585.3" cy="527.1" r="1.1" fill="#000"/>
<rect x="532.6" y="657" width="77.4" height="97.7" fill="#fff"/>
<text x="541.0" y="676.6" class="ti" style="font-size:13.9px">Medication</text>
<line x1="543.2" y1="693.7" x2="560.8" y2="693.7" stroke="#BEBEBE" stroke-width="1.6" stroke-dasharray="5.4 5.8"/>
<rect x="546.4" y="688" width="11.4" height="11.4" fill="none" stroke="#BEBEBE" stroke-width="1.15"/>
<text x="565.3" y="697.6" class="lg">no−CNI</text>
<line x1="543.2" y1="715.6" x2="560.8" y2="715.6" stroke="#F8766D" stroke-width="1.6"/>
<rect x="546.25" y="709.75" width="11.7" height="11.7" fill="#F8766D"/>
<text x="565.3" y="719.5" class="lg">CsA</text>
<line x1="543.2" y1="737.5" x2="560.8" y2="737.5" stroke="#4FC4CA" stroke-width="1.6"/>
<rect x="546.25" y="731.65" width="11.7" height="11.7" fill="#4FC4CA"/>
<text x="565.3" y="741.4" class="lg">FK</text>
<rect x="45.4" y="0.45" width="405.5" height="256.65" fill="none" stroke="#3A3A3A" stroke-width="1.15"/>
<rect x="45.4" y="261.3" width="405.5" height="256.4" fill="none" stroke="#3A3A3A" stroke-width="1.15"/>
<rect x="45.4" y="522.2" width="405.5" height="256.6" fill="none" stroke="#3A3A3A" stroke-width="1.15"/>
<rect x="485.3" y="4.3" width="223.1" height="253.8" fill="none" stroke="#3A3A3A" stroke-width="1.15"/>
<rect x="485.3" y="262.6" width="223.1" height="253.8" fill="none" stroke="#3A3A3A" stroke-width="1.15"/>
<rect x="485.3" y="520.7" width="223.1" height="253.7" fill="none" stroke="#3A3A3A" stroke-width="1.15"/>
<line x1="41.8" y1="251.6" x2="45.4" y2="251.6" stroke="#3A3A3A" stroke-width="1.25"/>
<text x="39.2" y="255.5" class="tk" text-anchor="end">120</text>
<line x1="41.8" y1="167.1" x2="45.4" y2="167.1" stroke="#3A3A3A" stroke-width="1.25"/>
<text x="39.2" y="171" class="tk" text-anchor="end">140</text>
<line x1="41.8" y1="82.6" x2="45.4" y2="82.6" stroke="#3A3A3A" stroke-width="1.25"/>
<text x="39.2" y="86.5" class="tk" text-anchor="end">160</text>
<line x1="41.8" y1="475.9" x2="45.4" y2="475.9" stroke="#3A3A3A" stroke-width="1.25"/>
<text x="39.2" y="479.8" class="tk" text-anchor="end">70</text>
<line x1="41.8" y1="414.3" x2="45.4" y2="414.3" stroke="#3A3A3A" stroke-width="1.25"/>
<text x="39.2" y="418.2" class="tk" text-anchor="end">80</text>
<line x1="41.8" y1="352.7" x2="45.4" y2="352.7" stroke="#3A3A3A" stroke-width="1.25"/>
<text x="39.2" y="356.6" class="tk" text-anchor="end">90</text>
<line x1="41.8" y1="291.1" x2="45.4" y2="291.1" stroke="#3A3A3A" stroke-width="1.25"/>
<text x="39.2" y="295" class="tk" text-anchor="end">100</text>
<line x1="41.8" y1="702.9" x2="45.4" y2="702.9" stroke="#3A3A3A" stroke-width="1.25"/>
<text x="39.2" y="706.8" class="tk" text-anchor="end">70</text>
<line x1="41.8" y1="622.85" x2="45.4" y2="622.85" stroke="#3A3A3A" stroke-width="1.25"/>
<text x="39.2" y="626.75" class="tk" text-anchor="end">80</text>
<line x1="41.8" y1="542.8" x2="45.4" y2="542.8" stroke="#3A3A3A" stroke-width="1.25"/>
<text x="39.2" y="546.7" class="tk" text-anchor="end">90</text>
<line x1="481.7" y1="220.7" x2="485.3" y2="220.7" stroke="#3A3A3A" stroke-width="1.25"/>
<text x="478.6" y="224.6" class="tk" text-anchor="end">130</text>
<line x1="481.7" y1="161.2" x2="485.3" y2="161.2" stroke="#3A3A3A" stroke-width="1.25"/>
<text x="478.6" y="165.1" class="tk" text-anchor="end">140</text>
<line x1="481.7" y1="101.7" x2="485.3" y2="101.7" stroke="#3A3A3A" stroke-width="1.25"/>
<text x="478.6" y="105.6" class="tk" text-anchor="end">150</text>
<line x1="481.7" y1="42.2" x2="485.3" y2="42.2" stroke="#3A3A3A" stroke-width="1.25"/>
<text x="478.6" y="46.1" class="tk" text-anchor="end">160</text>
<line x1="481.7" y1="503.7" x2="485.3" y2="503.7" stroke="#3A3A3A" stroke-width="1.25"/>
<text x="478.6" y="507.6" class="tk" text-anchor="end">70</text>
<line x1="481.7" y1="416.15" x2="485.3" y2="416.15" stroke="#3A3A3A" stroke-width="1.25"/>
<text x="478.6" y="420.05" class="tk" text-anchor="end">80</text>
<line x1="481.7" y1="328.6" x2="485.3" y2="328.6" stroke="#3A3A3A" stroke-width="1.25"/>
<text x="478.6" y="332.5" class="tk" text-anchor="end">90</text>
<line x1="481.7" y1="751.3" x2="485.3" y2="751.3" stroke="#3A3A3A" stroke-width="1.25"/>
<text x="478.6" y="755.2" class="tk" text-anchor="end">65</text>
<line x1="481.7" y1="698.45" x2="485.3" y2="698.45" stroke="#3A3A3A" stroke-width="1.25"/>
<text x="478.6" y="702.35" class="tk" text-anchor="end">70</text>
<line x1="481.7" y1="645.6" x2="485.3" y2="645.6" stroke="#3A3A3A" stroke-width="1.25"/>
<text x="478.6" y="649.5" class="tk" text-anchor="end">75</text>
<line x1="481.7" y1="592.75" x2="485.3" y2="592.75" stroke="#3A3A3A" stroke-width="1.25"/>
<text x="478.6" y="596.65" class="tk" text-anchor="end">80</text>
<line x1="481.7" y1="539.9" x2="485.3" y2="539.9" stroke="#3A3A3A" stroke-width="1.25"/>
<text x="478.6" y="543.8" class="tk" text-anchor="end">85</text>
<line x1="61.8" y1="257.1" x2="61.8" y2="260.7" stroke="#3A3A3A" stroke-width="1.25"/>
<line x1="78.3" y1="257.1" x2="78.3" y2="260.7" stroke="#3A3A3A" stroke-width="1.25"/>
<line x1="94.8" y1="257.1" x2="94.8" y2="260.7" stroke="#3A3A3A" stroke-width="1.25"/>
<line x1="111.3" y1="257.1" x2="111.3" y2="260.7" stroke="#3A3A3A" stroke-width="1.25"/>
<line x1="127.8" y1="257.1" x2="127.8" y2="260.7" stroke="#3A3A3A" stroke-width="1.25"/>
<line x1="144.3" y1="257.1" x2="144.3" y2="260.7" stroke="#3A3A3A" stroke-width="1.25"/>
<line x1="160.8" y1="257.1" x2="160.8" y2="260.7" stroke="#3A3A3A" stroke-width="1.25"/>
<line x1="177.3" y1="257.1" x2="177.3" y2="260.7" stroke="#3A3A3A" stroke-width="1.25"/>
<line x1="193.8" y1="257.1" x2="193.8" y2="260.7" stroke="#3A3A3A" stroke-width="1.25"/>
<line x1="210.3" y1="257.1" x2="210.3" y2="260.7" stroke="#3A3A3A" stroke-width="1.25"/>
<line x1="226.8" y1="257.1" x2="226.8" y2="260.7" stroke="#3A3A3A" stroke-width="1.25"/>
<line x1="243.3" y1="257.1" x2="243.3" y2="260.7" stroke="#3A3A3A" stroke-width="1.25"/>
<line x1="259.8" y1="257.1" x2="259.8" y2="260.7" stroke="#3A3A3A" stroke-width="1.25"/>
<line x1="276.3" y1="257.1" x2="276.3" y2="260.7" stroke="#3A3A3A" stroke-width="1.25"/>
<line x1="292.8" y1="257.1" x2="292.8" y2="260.7" stroke="#3A3A3A" stroke-width="1.25"/>
<line x1="309.3" y1="257.1" x2="309.3" y2="260.7" stroke="#3A3A3A" stroke-width="1.25"/>
<line x1="325.8" y1="257.1" x2="325.8" y2="260.7" stroke="#3A3A3A" stroke-width="1.25"/>
<line x1="342.3" y1="257.1" x2="342.3" y2="260.7" stroke="#3A3A3A" stroke-width="1.25"/>
<line x1="358.8" y1="257.1" x2="358.8" y2="260.7" stroke="#3A3A3A" stroke-width="1.25"/>
<line x1="375.3" y1="257.1" x2="375.3" y2="260.7" stroke="#3A3A3A" stroke-width="1.25"/>
<line x1="391.8" y1="257.1" x2="391.8" y2="260.7" stroke="#3A3A3A" stroke-width="1.25"/>
<line x1="408.3" y1="257.1" x2="408.3" y2="260.7" stroke="#3A3A3A" stroke-width="1.25"/>
<line x1="424.8" y1="257.1" x2="424.8" y2="260.7" stroke="#3A3A3A" stroke-width="1.25"/>
<line x1="441.3" y1="257.1" x2="441.3" y2="260.7" stroke="#3A3A3A" stroke-width="1.25"/>
<line x1="61.8" y1="517.7" x2="61.8" y2="521.3" stroke="#3A3A3A" stroke-width="1.25"/>
<line x1="78.3" y1="517.7" x2="78.3" y2="521.3" stroke="#3A3A3A" stroke-width="1.25"/>
<line x1="94.8" y1="517.7" x2="94.8" y2="521.3" stroke="#3A3A3A" stroke-width="1.25"/>
<line x1="111.3" y1="517.7" x2="111.3" y2="521.3" stroke="#3A3A3A" stroke-width="1.25"/>
<line x1="127.8" y1="517.7" x2="127.8" y2="521.3" stroke="#3A3A3A" stroke-width="1.25"/>
<line x1="144.3" y1="517.7" x2="144.3" y2="521.3" stroke="#3A3A3A" stroke-width="1.25"/>
<line x1="160.8" y1="517.7" x2="160.8" y2="521.3" stroke="#3A3A3A" stroke-width="1.25"/>
<line x1="177.3" y1="517.7" x2="177.3" y2="521.3" stroke="#3A3A3A" stroke-width="1.25"/>
<line x1="193.8" y1="517.7" x2="193.8" y2="521.3" stroke="#3A3A3A" stroke-width="1.25"/>
<line x1="210.3" y1="517.7" x2="210.3" y2="521.3" stroke="#3A3A3A" stroke-width="1.25"/>
<line x1="226.8" y1="517.7" x2="226.8" y2="521.3" stroke="#3A3A3A" stroke-width="1.25"/>
<line x1="243.3" y1="517.7" x2="243.3" y2="521.3" stroke="#3A3A3A" stroke-width="1.25"/>
<line x1="259.8" y1="517.7" x2="259.8" y2="521.3" stroke="#3A3A3A" stroke-width="1.25"/>
<line x1="276.3" y1="517.7" x2="276.3" y2="521.3" stroke="#3A3A3A" stroke-width="1.25"/>
<line x1="292.8" y1="517.7" x2="292.8" y2="521.3" stroke="#3A3A3A" stroke-width="1.25"/>
<line x1="309.3" y1="517.7" x2="309.3" y2="521.3" stroke="#3A3A3A" stroke-width="1.25"/>
<line x1="325.8" y1="517.7" x2="325.8" y2="521.3" stroke="#3A3A3A" stroke-width="1.25"/>
<line x1="342.3" y1="517.7" x2="342.3" y2="521.3" stroke="#3A3A3A" stroke-width="1.25"/>
<line x1="358.8" y1="517.7" x2="358.8" y2="521.3" stroke="#3A3A3A" stroke-width="1.25"/>
<line x1="375.3" y1="517.7" x2="375.3" y2="521.3" stroke="#3A3A3A" stroke-width="1.25"/>
<line x1="391.8" y1="517.7" x2="391.8" y2="521.3" stroke="#3A3A3A" stroke-width="1.25"/>
<line x1="408.3" y1="517.7" x2="408.3" y2="521.3" stroke="#3A3A3A" stroke-width="1.25"/>
<line x1="424.8" y1="517.7" x2="424.8" y2="521.3" stroke="#3A3A3A" stroke-width="1.25"/>
<line x1="441.3" y1="517.7" x2="441.3" y2="521.3" stroke="#3A3A3A" stroke-width="1.25"/>
<line x1="55.5" y1="778.8" x2="55.5" y2="782.4" stroke="#3A3A3A" stroke-width="1.25"/>
<line x1="72.27" y1="778.8" x2="72.27" y2="782.4" stroke="#3A3A3A" stroke-width="1.25"/>
<line x1="89.04" y1="778.8" x2="89.04" y2="782.4" stroke="#3A3A3A" stroke-width="1.25"/>
<line x1="105.81" y1="778.8" x2="105.81" y2="782.4" stroke="#3A3A3A" stroke-width="1.25"/>
<line x1="122.58" y1="778.8" x2="122.58" y2="782.4" stroke="#3A3A3A" stroke-width="1.25"/>
<line x1="139.35" y1="778.8" x2="139.35" y2="782.4" stroke="#3A3A3A" stroke-width="1.25"/>
<line x1="156.12" y1="778.8" x2="156.12" y2="782.4" stroke="#3A3A3A" stroke-width="1.25"/>
<line x1="172.89" y1="778.8" x2="172.89" y2="782.4" stroke="#3A3A3A" stroke-width="1.25"/>
<line x1="189.66" y1="778.8" x2="189.66" y2="782.4" stroke="#3A3A3A" stroke-width="1.25"/>
<line x1="206.43" y1="778.8" x2="206.43" y2="782.4" stroke="#3A3A3A" stroke-width="1.25"/>
<line x1="223.2" y1="778.8" x2="223.2" y2="782.4" stroke="#3A3A3A" stroke-width="1.25"/>
<line x1="239.97" y1="778.8" x2="239.97" y2="782.4" stroke="#3A3A3A" stroke-width="1.25"/>
<line x1="256.74" y1="778.8" x2="256.74" y2="782.4" stroke="#3A3A3A" stroke-width="1.25"/>
<line x1="273.51" y1="778.8" x2="273.51" y2="782.4" stroke="#3A3A3A" stroke-width="1.25"/>
<line x1="290.28" y1="778.8" x2="290.28" y2="782.4" stroke="#3A3A3A" stroke-width="1.25"/>
<line x1="307.05" y1="778.8" x2="307.05" y2="782.4" stroke="#3A3A3A" stroke-width="1.25"/>
<line x1="323.82" y1="778.8" x2="323.82" y2="782.4" stroke="#3A3A3A" stroke-width="1.25"/>
<line x1="340.59" y1="778.8" x2="340.59" y2="782.4" stroke="#3A3A3A" stroke-width="1.25"/>
<line x1="357.36" y1="778.8" x2="357.36" y2="782.4" stroke="#3A3A3A" stroke-width="1.25"/>
<line x1="374.13" y1="778.8" x2="374.13" y2="782.4" stroke="#3A3A3A" stroke-width="1.25"/>
<line x1="390.9" y1="778.8" x2="390.9" y2="782.4" stroke="#3A3A3A" stroke-width="1.25"/>
<line x1="407.67" y1="778.8" x2="407.67" y2="782.4" stroke="#3A3A3A" stroke-width="1.25"/>
<line x1="424.44" y1="778.8" x2="424.44" y2="782.4" stroke="#3A3A3A" stroke-width="1.25"/>
<line x1="441.21" y1="778.8" x2="441.21" y2="782.4" stroke="#3A3A3A" stroke-width="1.25"/>
<line x1="507.1" y1="258.1" x2="507.1" y2="261.7" stroke="#3A3A3A" stroke-width="1.25"/>
<line x1="533.66" y1="258.1" x2="533.66" y2="261.7" stroke="#3A3A3A" stroke-width="1.25"/>
<line x1="560.22" y1="258.1" x2="560.22" y2="261.7" stroke="#3A3A3A" stroke-width="1.25"/>
<line x1="586.78" y1="258.1" x2="586.78" y2="261.7" stroke="#3A3A3A" stroke-width="1.25"/>
<line x1="613.34" y1="258.1" x2="613.34" y2="261.7" stroke="#3A3A3A" stroke-width="1.25"/>
<line x1="639.9" y1="258.1" x2="639.9" y2="261.7" stroke="#3A3A3A" stroke-width="1.25"/>
<line x1="666.46" y1="258.1" x2="666.46" y2="261.7" stroke="#3A3A3A" stroke-width="1.25"/>
<line x1="693.02" y1="258.1" x2="693.02" y2="261.7" stroke="#3A3A3A" stroke-width="1.25"/>
<line x1="501.1" y1="516.4" x2="501.1" y2="520" stroke="#3A3A3A" stroke-width="1.25"/>
<line x1="528.46" y1="516.4" x2="528.46" y2="520" stroke="#3A3A3A" stroke-width="1.25"/>
<line x1="555.82" y1="516.4" x2="555.82" y2="520" stroke="#3A3A3A" stroke-width="1.25"/>
<line x1="583.18" y1="516.4" x2="583.18" y2="520" stroke="#3A3A3A" stroke-width="1.25"/>
<line x1="610.54" y1="516.4" x2="610.54" y2="520" stroke="#3A3A3A" stroke-width="1.25"/>
<line x1="637.9" y1="516.4" x2="637.9" y2="520" stroke="#3A3A3A" stroke-width="1.25"/>
<line x1="665.26" y1="516.4" x2="665.26" y2="520" stroke="#3A3A3A" stroke-width="1.25"/>
<line x1="692.62" y1="516.4" x2="692.62" y2="520" stroke="#3A3A3A" stroke-width="1.25"/>
<line x1="501.1" y1="774.4" x2="501.1" y2="778" stroke="#3A3A3A" stroke-width="1.25"/>
<line x1="528.46" y1="774.4" x2="528.46" y2="778" stroke="#3A3A3A" stroke-width="1.25"/>
<line x1="555.82" y1="774.4" x2="555.82" y2="778" stroke="#3A3A3A" stroke-width="1.25"/>
<line x1="583.18" y1="774.4" x2="583.18" y2="778" stroke="#3A3A3A" stroke-width="1.25"/>
<line x1="610.54" y1="774.4" x2="610.54" y2="778" stroke="#3A3A3A" stroke-width="1.25"/>
<line x1="637.9" y1="774.4" x2="637.9" y2="778" stroke="#3A3A3A" stroke-width="1.25"/>
<line x1="665.26" y1="774.4" x2="665.26" y2="778" stroke="#3A3A3A" stroke-width="1.25"/>
<line x1="692.62" y1="774.4" x2="692.62" y2="778" stroke="#3A3A3A" stroke-width="1.25"/>
<text x="55.5" y="793.6" class="tk" text-anchor="middle">10</text>
<text x="72.27" y="793.6" class="tk" text-anchor="middle">11</text>
<text x="89.04" y="793.6" class="tk" text-anchor="middle">12</text>
<text x="105.81" y="793.6" class="tk" text-anchor="middle">13</text>
<text x="122.58" y="793.6" class="tk" text-anchor="middle">14</text>
<text x="139.35" y="793.6" class="tk" text-anchor="middle">15</text>
<text x="156.12" y="793.6" class="tk" text-anchor="middle">16</text>
<text x="172.89" y="793.6" class="tk" text-anchor="middle">17</text>
<text x="189.66" y="793.6" class="tk" text-anchor="middle">18</text>
<text x="206.43" y="793.6" class="tk" text-anchor="middle">19</text>
<text x="223.2" y="793.6" class="tk" text-anchor="middle">20</text>
<text x="239.97" y="793.6" class="tk" text-anchor="middle">21</text>
<text x="256.74" y="793.6" class="tk" text-anchor="middle">22</text>
<text x="273.51" y="793.6" class="tk" text-anchor="middle">23</text>
<text x="290.28" y="793.6" class="tk" text-anchor="middle">0</text>
<text x="307.05" y="793.6" class="tk" text-anchor="middle">1</text>
<text x="323.82" y="793.6" class="tk" text-anchor="middle">2</text>
<text x="340.59" y="793.6" class="tk" text-anchor="middle">3</text>
<text x="357.36" y="793.6" class="tk" text-anchor="middle">4</text>
<text x="374.13" y="793.6" class="tk" text-anchor="middle">5</text>
<text x="390.9" y="793.6" class="tk" text-anchor="middle">6</text>
<text x="407.67" y="793.6" class="tk" text-anchor="middle">7</text>
<text x="424.44" y="793.6" class="tk" text-anchor="middle">8</text>
<text x="441.21" y="793.6" class="tk" text-anchor="middle">9</text>
<text x="501.1" y="789.6" class="tk" text-anchor="middle">8.5</text>
<text x="528.46" y="789.6" class="tk" text-anchor="middle">11.5</text>
<text x="555.82" y="789.6" class="tk" text-anchor="middle">14.5</text>
<text x="583.18" y="789.6" class="tk" text-anchor="middle">17.5</text>
<text x="610.54" y="789.6" class="tk" text-anchor="middle">20.5</text>
<text x="637.9" y="789.6" class="tk" text-anchor="middle">23.5</text>
<text x="665.26" y="789.6" class="tk" text-anchor="middle">2.5</text>
<text x="692.62" y="789.6" class="tk" text-anchor="middle">5.5</text>
<text x="247.4" y="811.2" class="ti" text-anchor="middle">Hour</text>
<text x="598.4" y="806.6" class="ti" text-anchor="middle">3-h interval</text>
<text transform="translate(10.1 130.0) rotate(-90)" class="ti" text-anchor="middle">SBP, mmHg</text>
<text transform="translate(9.9 391.0) rotate(-90)" class="ti" text-anchor="middle">DBP, mmHg</text>
<text transform="translate(17.0 653.0) rotate(-90)" class="ti" text-anchor="middle">Heart rate, bpm</text>
</svg>
</body></html>
